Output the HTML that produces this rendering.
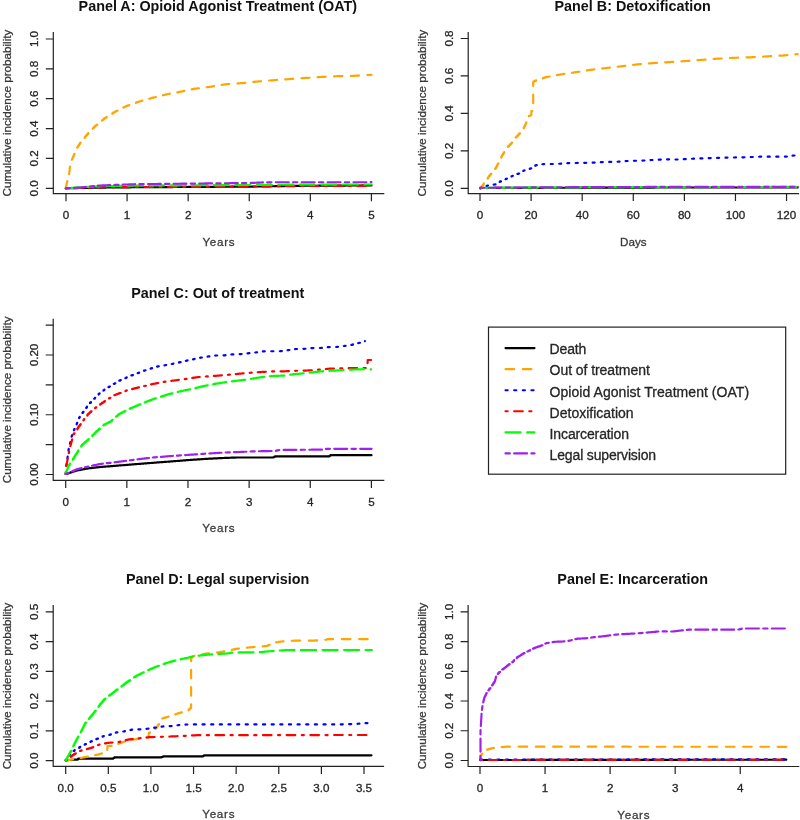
<!DOCTYPE html>
<html><head><meta charset="utf-8"><title>Cumulative incidence</title>
<style>
html,body{margin:0;padding:0;background:#fff;}
body{width:800px;height:820px;overflow:hidden;font-family:"Liberation Sans",sans-serif;}
svg{display:block;filter:blur(0.45px);}
</style></head><body>
<svg width="800" height="820" viewBox="0 0 800 820" font-family="Liberation Sans, sans-serif">
<rect width="800" height="820" fill="#fff"/>
<clipPath id="cA"><rect x="53.30" y="32.50" width="330.40" height="161.20"/></clipPath>
<path d="M53.30,32.50 L53.30,193.70 L383.70,193.70" fill="none" stroke="#222" stroke-width="1.20" stroke-linecap="square"/>
<path d="M66.00,193.70 L66.00,201.20 M127.08,193.70 L127.08,201.20 M188.16,193.70 L188.16,201.20 M249.24,193.70 L249.24,201.20 M310.32,193.70 L310.32,201.20 M371.40,193.70 L371.40,201.20 M53.30,188.30 L45.80,188.30 M53.30,158.44 L45.80,158.44 M53.30,128.58 L45.80,128.58 M53.30,98.72 L45.80,98.72 M53.30,68.86 L45.80,68.86 M53.30,39.00 L45.80,39.00 " fill="none" stroke="#222" stroke-width="1.20"/>
<text x="66.00" y="219.20" text-anchor="middle" font-size="11.64" font-weight="normal" fill="#262626" stroke="#262626" stroke-width="0.30">0</text>
<text x="127.08" y="219.20" text-anchor="middle" font-size="11.64" font-weight="normal" fill="#262626" stroke="#262626" stroke-width="0.30">1</text>
<text x="188.16" y="219.20" text-anchor="middle" font-size="11.64" font-weight="normal" fill="#262626" stroke="#262626" stroke-width="0.30">2</text>
<text x="249.24" y="219.20" text-anchor="middle" font-size="11.64" font-weight="normal" fill="#262626" stroke="#262626" stroke-width="0.30">3</text>
<text x="310.32" y="219.20" text-anchor="middle" font-size="11.64" font-weight="normal" fill="#262626" stroke="#262626" stroke-width="0.30">4</text>
<text x="371.40" y="219.20" text-anchor="middle" font-size="11.64" font-weight="normal" fill="#262626" stroke="#262626" stroke-width="0.30">5</text>
<text transform="translate(37.70,188.30) rotate(-90)" text-anchor="middle" font-size="11.64" font-weight="normal" fill="#262626" stroke="#262626" stroke-width="0.30">0.0</text>
<text transform="translate(37.70,158.44) rotate(-90)" text-anchor="middle" font-size="11.64" font-weight="normal" fill="#262626" stroke="#262626" stroke-width="0.30">0.2</text>
<text transform="translate(37.70,128.58) rotate(-90)" text-anchor="middle" font-size="11.64" font-weight="normal" fill="#262626" stroke="#262626" stroke-width="0.30">0.4</text>
<text transform="translate(37.70,98.72) rotate(-90)" text-anchor="middle" font-size="11.64" font-weight="normal" fill="#262626" stroke="#262626" stroke-width="0.30">0.6</text>
<text transform="translate(37.70,68.86) rotate(-90)" text-anchor="middle" font-size="11.64" font-weight="normal" fill="#262626" stroke="#262626" stroke-width="0.30">0.8</text>
<text transform="translate(37.70,39.00) rotate(-90)" text-anchor="middle" font-size="11.64" font-weight="normal" fill="#262626" stroke="#262626" stroke-width="0.30">1.0</text>
<text x="217.80" y="11.30" text-anchor="middle" font-size="14.35" font-weight="bold" fill="#111">Panel A: Opioid Agonist Treatment (OAT)</text>
<text x="218.50" y="245.70" text-anchor="middle" font-size="11.64" font-weight="normal" fill="#3a3a3a" textLength="32.2" stroke="#3a3a3a" stroke-width="0.30">Years</text>
<text transform="translate(10.80,113.10) rotate(-90)" text-anchor="middle" font-size="11.64" font-weight="normal" fill="#3a3a3a" stroke="#3a3a3a" stroke-width="0.30">Cumulative incidence probability</text>
<g clip-path="url(#cA)">
<path d="M65.80,188.30H66.75V188.28H67.69V188.26H68.64V188.24H69.59V188.22H70.53V188.20H71.48V188.18H72.43V188.16H73.37V188.14H74.32V188.12H75.27V188.10H76.21V188.08H77.16V188.06H78.11V188.04H79.05V188.02H80.00V188.00H81.00V187.98H82.00V187.96H83.00V187.94H84.00V187.92H85.00V187.90H86.00V187.88H87.00V187.86H88.00V187.84H89.00V187.82H90.00V187.80H91.00V187.78H92.00V187.76H93.00V187.74H94.00V187.72H95.00V187.70H96.00V187.68H97.00V187.66H98.00V187.64H99.00V187.62H100.00V187.60H101.00V187.59H102.00V187.58H103.00V187.57H104.00V187.56H105.00V187.55H106.00V187.54H107.00V187.53H108.00V187.52H109.00V187.51H110.00V187.50H111.00V187.49H112.00V187.48H113.00V187.47H114.00V187.46H115.00V187.45H116.00V187.44H117.00V187.43H118.00V187.42H119.00V187.41H120.00V187.40H121.00V187.39H122.00V187.38H123.00V187.37H124.00V187.36H125.00V187.35H126.00V187.34H127.00V187.33H128.00V187.32H129.00V187.31H130.00V187.30H131.00V187.29H132.00V187.29H133.00V187.28H134.00V187.28H135.00V187.27H136.00V187.26H137.00V187.26H138.00V187.25H139.00V187.25H140.00V187.24H141.00V187.23H142.00V187.23H143.00V187.22H144.00V187.22H145.00V187.21H146.00V187.20H147.00V187.20H148.00V187.19H149.00V187.19H150.00V187.18H151.00V187.17H152.00V187.17H153.00V187.16H154.00V187.16H155.00V187.15H156.00V187.14H157.00V187.14H158.00V187.13H159.00V187.13H160.00V187.12H161.00V187.11H162.00V187.11H163.00V187.10H164.00V187.10H165.00V187.09H166.00V187.08H167.00V187.08H168.00V187.07H169.00V187.07H170.00V187.06H171.00V187.05H172.00V187.05H173.00V187.04H174.00V187.04H175.00V187.03H176.00V187.02H177.00V187.02H178.00V187.01H179.00V187.01H180.00V187.00H181.00V186.99H182.00V186.99H183.00V186.98H184.00V186.98H185.00V186.97H186.00V186.97H187.00V186.96H188.00V186.95H189.00V186.95H190.00V186.94H191.00V186.94H192.00V186.93H193.00V186.93H194.00V186.92H195.00V186.91H196.00V186.91H197.00V186.90H198.00V186.90H199.00V186.89H200.00V186.89H201.00V186.88H202.00V186.87H203.00V186.87H204.00V186.86H205.00V186.86H206.00V186.85H207.00V186.85H208.00V186.84H209.00V186.83H210.00V186.83H211.00V186.82H212.00V186.82H213.00V186.81H214.00V186.81H215.00V186.80H216.00V186.79H217.00V186.79H218.00V186.78H219.00V186.78H220.00V186.77H221.00V186.77H222.00V186.76H223.00V186.75H224.00V186.75H225.00V186.74H226.00V186.74H227.00V186.73H228.00V186.73H229.00V186.72H230.00V186.71H231.00V186.71H232.00V186.70H233.00V186.70H234.00V186.69H235.00V186.69H236.00V186.68H237.00V186.67H238.00V186.67H239.00V186.66H240.00V186.66H241.00V186.65H242.00V186.65H243.00V186.64H244.00V186.63H245.00V186.63H246.00V186.62H247.00V186.62H248.00V186.61H249.00V186.61H250.00V186.60H251.00V186.58H252.00V186.57H253.00V186.55H254.00V186.54H255.00V186.52H256.00V186.50H257.00V186.49H258.00V186.47H259.00V186.46H260.00V186.44H261.00V186.42H262.00V186.41H263.00V186.39H264.00V186.38H265.00V186.36H266.00V186.34H267.00V186.33H268.00V186.31H269.00V186.30H270.00V186.28H271.00V186.26H272.00V186.25H273.00V186.23H274.00V186.22H275.00V186.20H276.00V186.18H277.00V186.17H278.00V186.15H279.00V186.14H280.00V186.12H281.00V186.10H282.00V186.09H283.00V186.07H284.00V186.06H285.00V186.04H286.00V186.02H287.00V186.01H288.00V185.99H289.00V185.98H290.00V185.96H291.00V185.94H292.00V185.93H293.00V185.91H294.00V185.90H295.00V185.88H296.00V185.86H297.00V185.85H298.00V185.83H299.00V185.82H300.00V185.80H300.99V185.79H301.99V185.79H302.98V185.78H303.97V185.78H304.97V185.77H305.96V185.77H306.95V185.76H307.94V185.76H308.94V185.75H309.93V185.74H310.92V185.74H311.92V185.73H312.91V185.73H313.90V185.72H314.90V185.72H315.89V185.71H316.88V185.71H317.88V185.70H318.87V185.69H319.86V185.69H320.85V185.68H321.85V185.68H322.84V185.67H323.83V185.67H324.83V185.66H325.82V185.66H326.81V185.65H327.81V185.64H328.80V185.64H329.79V185.63H330.78V185.63H331.78V185.62H332.77V185.62H333.76V185.61H334.76V185.61H335.75V185.60H336.74V185.59H337.74V185.59H338.73V185.58H339.72V185.58H340.72V185.57H341.71V185.57H342.70V185.56H343.69V185.56H344.69V185.55H345.68V185.54H346.67V185.54H347.67V185.53H348.66V185.53H349.65V185.52H350.65V185.52H351.64V185.51H352.63V185.51H353.62V185.50H354.62V185.49H355.61V185.49H356.60V185.48H357.60V185.48H358.59V185.47H359.58V185.47H360.58V185.46H361.57V185.46H362.56V185.45H363.56V185.44H364.55V185.44H365.54V185.43H366.53V185.43H367.53V185.42H368.52V185.42H369.51V185.41H370.51V185.41H371.50V185.40" fill="none" stroke="#000000" stroke-width="2.16" stroke-linecap="round" stroke-linejoin="round"/>
<path d="M65.80,188.30H65.94V187.44H66.08V186.58H66.22V185.72H66.36V184.86H66.50V184.00H66.75V183.00H67.00V182.00H67.25V181.00H67.50V180.00H67.76V179.14H68.02V178.28H68.28V177.42H68.54V176.56H68.80V175.70H68.93V174.73H69.06V173.76H69.19V172.79H69.32V171.82H69.45V170.85H69.58V169.88H69.71V168.91H69.84V167.94H69.97V166.97H70.10V166.00H70.33V165.07H70.57V164.13H70.80V163.20H71.03V162.27H71.27V161.33H71.50V160.40H71.90V159.46H72.30V158.51H72.70V157.57H73.10V156.63H73.50V155.69H73.90V154.74H74.30V153.80H74.67V152.88H75.03V151.97H75.40V151.05H75.77V150.13H76.13V149.22H76.50V148.30H77.13V147.36H77.76V146.41H78.39V145.47H79.01V144.53H79.64V143.59H80.27V142.64H80.90V141.70H81.67V140.76H82.44V139.81H83.21V138.87H83.99V137.93H84.76V136.99H85.53V136.04H86.30V135.10H87.22V134.12H88.14V133.14H89.07V132.17H89.99V131.19H90.91V130.21H91.83V129.23H92.76V128.26H93.68V127.28H94.60V126.30H95.52V125.54H96.44V124.78H97.36V124.02H98.28V123.26H99.20V122.50H100.12V121.74H101.04V120.98H101.96V120.22H102.88V119.46H103.80V118.70H104.75V118.09H105.69V117.48H106.64V116.87H107.58V116.26H108.53V115.65H109.47V115.05H110.42V114.44H111.36V113.83H112.31V113.22H113.25V112.61H114.20V112.00H115.20V111.50H116.20V111.00H117.20V110.50H118.20V110.00H119.20V109.50H120.20V109.00H121.20V108.50H122.20V108.00H123.20V107.50H124.20V107.00H125.20V106.50H126.20V106.00H127.18V105.65H128.17V105.31H129.15V104.96H130.14V104.62H131.12V104.27H132.11V103.92H133.09V103.58H134.08V103.23H135.06V102.88H136.05V102.54H137.03V102.19H138.02V101.85H139.00V101.50H139.96V101.23H140.93V100.96H141.89V100.69H142.86V100.41H143.82V100.14H144.79V99.87H145.75V99.60H146.71V99.33H147.68V99.06H148.64V98.79H149.61V98.51H150.57V98.24H151.54V97.97H152.50V97.70H153.46V97.46H154.43V97.23H155.39V96.99H156.36V96.76H157.32V96.52H158.29V96.29H159.25V96.05H160.21V95.81H161.18V95.58H162.14V95.34H163.11V95.11H164.07V94.87H165.04V94.64H166.00V94.40H166.95V94.22H167.89V94.04H168.84V93.86H169.79V93.68H170.73V93.50H171.68V93.32H172.63V93.14H173.57V92.96H174.52V92.78H175.47V92.60H176.41V92.42H177.36V92.24H178.31V92.06H179.25V91.88H180.20V91.70H181.15V91.50H182.11V91.30H183.06V91.10H184.01V90.90H184.97V90.70H185.92V90.50H186.87V90.30H187.83V90.10H188.78V89.90H189.73V89.70H190.69V89.50H191.64V89.30H192.59V89.10H193.55V88.90H194.50V88.70H195.48V88.58H196.46V88.46H197.44V88.34H198.42V88.22H199.40V88.10H200.38V87.98H201.36V87.86H202.34V87.74H203.32V87.62H204.30V87.50H205.28V87.38H206.26V87.26H207.24V87.14H208.22V87.02H209.20V86.90H210.17V86.74H211.15V86.58H212.12V86.41H213.10V86.25H214.07V86.09H215.05V85.92H216.03V85.76H217.00V85.60H217.97V85.44H218.95V85.28H219.93V85.11H220.90V84.95H221.88V84.79H222.85V84.62H223.83V84.46H224.80V84.30H225.78V84.23H226.76V84.16H227.74V84.09H228.73V84.03H229.71V83.96H230.69V83.89H231.67V83.82H232.65V83.75H233.63V83.68H234.61V83.61H235.59V83.54H236.57V83.47H237.56V83.41H238.54V83.34H239.52V83.27H240.50V83.20H241.49V83.10H242.47V83.00H243.46V82.90H244.45V82.80H245.44V82.70H246.43V82.60H247.41V82.50H248.40V82.40H249.39V82.30H250.38V82.20H251.36V82.10H252.35V82.00H253.34V81.90H254.33V81.80H255.31V81.70H256.30V81.60H257.28V81.52H258.26V81.44H259.24V81.36H260.23V81.27H261.21V81.19H262.19V81.11H263.17V81.03H264.15V80.95H265.13V80.87H266.11V80.79H267.09V80.71H268.07V80.62H269.06V80.54H270.04V80.46H271.02V80.38H272.00V80.30H272.99V80.23H273.99V80.16H274.98V80.09H275.98V80.02H276.97V79.95H277.96V79.88H278.96V79.81H279.95V79.74H280.95V79.66H281.94V79.59H282.94V79.52H283.93V79.45H284.92V79.38H285.92V79.31H286.91V79.24H287.91V79.17H288.90V79.10H289.88V79.03H290.86V78.96H291.84V78.89H292.82V78.82H293.81V78.76H294.79V78.69H295.77V78.62H296.75V78.55H297.73V78.48H298.71V78.41H299.69V78.34H300.68V78.28H301.66V78.21H302.64V78.14H303.62V78.07H304.60V78.00H305.59V77.94H306.59V77.87H307.58V77.81H308.58V77.74H309.57V77.68H310.56V77.61H311.56V77.55H312.55V77.48H313.55V77.42H314.54V77.35H315.54V77.29H316.53V77.22H317.52V77.16H318.52V77.09H319.51V77.03H320.51V76.96H321.50V76.90H322.49V76.86H323.48V76.81H324.46V76.77H325.45V76.73H326.44V76.68H327.43V76.64H328.41V76.59H329.40V76.55H330.39V76.51H331.38V76.46H332.36V76.42H333.35V76.38H334.34V76.33H335.32V76.29H336.31V76.24H337.30V76.20H338.29V76.18H339.28V76.15H340.26V76.13H341.25V76.11H342.24V76.08H343.23V76.06H344.22V76.04H345.21V76.01H346.19V75.99H347.18V75.96H348.17V75.94H349.16V75.92H350.15V75.89H351.14V75.87H352.12V75.85H353.11V75.82H354.10V75.80H355.07V75.74H356.03V75.69H357.00V75.63H357.97V75.58H358.93V75.52H359.90V75.47H360.87V75.41H361.83V75.36H362.80V75.30H363.77V75.24H364.73V75.19H365.70V75.13H366.67V75.08H367.63V75.02H368.60V74.97H369.57V74.91H370.53V74.86H371.50V74.80" fill="none" stroke="#FFA500" stroke-width="2.16" stroke-linecap="round" stroke-linejoin="round" stroke-dasharray="8.64 8.64"/>
<path d="M65.80,188.30H66.78V188.27H67.75V188.24H68.73V188.21H69.71V188.19H70.69V188.16H71.66V188.13H72.64V188.10H73.62V188.07H74.59V188.04H75.57V188.01H76.55V187.99H77.53V187.96H78.50V187.93H79.48V187.90H80.46V187.87H81.43V187.84H82.41V187.81H83.39V187.79H84.37V187.76H85.34V187.73H86.32V187.70H87.30V187.67H88.27V187.64H89.25V187.61H90.23V187.59H91.21V187.56H92.18V187.53H93.16V187.50H94.14V187.47H95.11V187.44H96.09V187.41H97.07V187.39H98.05V187.36H99.02V187.33H100.00V187.30H101.00V187.29H102.00V187.28H103.00V187.27H104.00V187.27H105.00V187.26H106.00V187.25H107.00V187.24H108.00V187.23H109.00V187.22H110.00V187.21H111.00V187.21H112.00V187.20H113.00V187.19H114.00V187.18H115.00V187.17H116.00V187.16H117.00V187.15H118.00V187.15H119.00V187.14H120.00V187.13H121.00V187.12H122.00V187.11H123.00V187.10H124.00V187.09H125.00V187.09H126.00V187.08H127.00V187.07H128.00V187.06H129.00V187.05H130.00V187.04H131.00V187.03H132.00V187.03H133.00V187.02H134.00V187.01H135.00V187.00H136.00V187.00H137.00V186.99H138.00V186.99H139.00V186.99H140.00V186.98H141.00V186.98H142.00V186.98H143.00V186.98H144.00V186.97H145.00V186.97H146.00V186.97H147.00V186.96H148.00V186.96H149.00V186.96H150.00V186.95H151.00V186.95H152.00V186.95H153.00V186.94H154.00V186.94H155.00V186.94H156.00V186.94H157.00V186.93H158.00V186.93H159.00V186.93H160.00V186.92H161.00V186.92H162.00V186.92H163.00V186.91H164.00V186.91H165.00V186.91H166.00V186.90H167.00V186.90H168.00V186.90H169.00V186.90H170.00V186.89H171.00V186.89H172.00V186.89H173.00V186.88H174.00V186.88H175.00V186.88H176.00V186.87H177.00V186.87H178.00V186.87H179.00V186.86H180.00V186.86H181.00V186.86H182.00V186.86H183.00V186.85H184.00V186.85H185.00V186.85H186.00V186.84H187.00V186.84H188.00V186.84H189.00V186.83H190.00V186.83H191.00V186.83H192.00V186.82H193.00V186.82H194.00V186.82H195.00V186.82H196.00V186.81H197.00V186.81H198.00V186.81H199.00V186.80H200.00V186.80H201.00V186.80H202.00V186.79H203.00V186.79H204.00V186.78H205.00V186.78H206.00V186.78H207.00V186.77H208.00V186.77H209.00V186.76H210.00V186.76H211.00V186.76H212.00V186.75H213.00V186.75H214.00V186.74H215.00V186.74H216.00V186.74H217.00V186.73H218.00V186.73H219.00V186.72H220.00V186.72H221.00V186.72H222.00V186.71H223.00V186.71H224.00V186.70H225.00V186.70H226.00V186.70H227.00V186.69H228.00V186.69H229.00V186.68H230.00V186.68H231.00V186.68H232.00V186.67H233.00V186.67H234.00V186.66H235.00V186.66H236.00V186.66H237.00V186.65H238.00V186.65H239.00V186.64H240.00V186.64H241.00V186.64H242.00V186.63H243.00V186.63H244.00V186.62H245.00V186.62H246.00V186.62H247.00V186.61H248.00V186.61H249.00V186.60H250.00V186.60H251.00V186.59H252.00V186.58H253.00V186.56H254.00V186.55H255.00V186.54H256.00V186.53H257.00V186.52H258.00V186.50H259.00V186.49H260.00V186.48H261.00V186.47H262.00V186.46H263.00V186.44H264.00V186.43H265.00V186.42H266.00V186.41H267.00V186.40H268.00V186.38H269.00V186.37H270.00V186.36H271.00V186.35H272.00V186.34H273.00V186.32H274.00V186.31H275.00V186.30H276.00V186.29H277.00V186.28H278.00V186.26H279.00V186.25H280.00V186.24H281.00V186.23H282.00V186.22H283.00V186.20H284.00V186.19H285.00V186.18H286.00V186.17H287.00V186.16H288.00V186.14H289.00V186.13H290.00V186.12H291.00V186.11H292.00V186.10H293.00V186.08H294.00V186.07H295.00V186.06H296.00V186.05H297.00V186.04H298.00V186.02H299.00V186.01H300.00V186.00H300.99V186.00H301.99V186.00H302.98V186.00H303.97V185.99H304.97V185.99H305.96V185.99H306.95V185.99H307.94V185.99H308.94V185.99H309.93V185.99H310.92V185.98H311.92V185.98H312.91V185.98H313.90V185.98H314.90V185.98H315.89V185.98H316.88V185.98H317.88V185.97H318.87V185.97H319.86V185.97H320.85V185.97H321.85V185.97H322.84V185.97H323.83V185.97H324.83V185.97H325.82V185.96H326.81V185.96H327.81V185.96H328.80V185.96H329.79V185.96H330.78V185.96H331.78V185.96H332.77V185.95H333.76V185.95H334.76V185.95H335.75V185.95H336.74V185.95H337.74V185.95H338.73V185.95H339.72V185.94H340.72V185.94H341.71V185.94H342.70V185.94H343.69V185.94H344.69V185.94H345.68V185.94H346.67V185.93H347.67V185.93H348.66V185.93H349.65V185.93H350.65V185.93H351.64V185.93H352.63V185.93H353.62V185.93H354.62V185.92H355.61V185.92H356.60V185.92H357.60V185.92H358.59V185.92H359.58V185.92H360.58V185.92H361.57V185.91H362.56V185.91H363.56V185.91H364.55V185.91H365.54V185.91H366.53V185.91H367.53V185.91H368.52V185.90H369.51V185.90H370.51V185.90H371.50V185.90" fill="none" stroke="#FF0000" stroke-width="2.16" stroke-linecap="round" stroke-linejoin="round" stroke-dasharray="2.16 6.48 8.64 6.48"/>
<path d="M65.80,188.30H66.75V188.23H67.69V188.17H68.64V188.10H69.59V188.03H70.53V187.97H71.48V187.90H72.43V187.83H73.37V187.77H74.32V187.70H75.27V187.63H76.21V187.57H77.16V187.50H78.11V187.43H79.05V187.37H80.00V187.30H81.00V187.25H82.00V187.19H83.00V187.14H84.00V187.08H85.00V187.03H86.00V186.97H87.00V186.91H88.00V186.86H89.00V186.81H90.00V186.75H91.00V186.69H92.00V186.64H93.00V186.59H94.00V186.53H95.00V186.47H96.00V186.42H97.00V186.36H98.00V186.31H99.00V186.25H100.00V186.20H101.00V186.18H102.00V186.16H103.00V186.14H104.00V186.12H105.00V186.10H106.00V186.08H107.00V186.06H108.00V186.04H109.00V186.02H110.00V186.00H111.00V185.98H112.00V185.96H113.00V185.94H114.00V185.92H115.00V185.90H116.00V185.88H117.00V185.86H118.00V185.84H119.00V185.82H120.00V185.80H121.00V185.78H122.00V185.76H123.00V185.74H124.00V185.72H125.00V185.70H126.00V185.68H127.00V185.66H128.00V185.64H129.00V185.62H130.00V185.60H131.00V185.58H132.00V185.56H133.00V185.54H134.00V185.52H135.00V185.50H136.00V185.50H137.00V185.49H138.00V185.49H139.00V185.48H140.00V185.48H141.00V185.47H142.00V185.47H143.00V185.46H144.00V185.46H145.00V185.45H146.00V185.45H147.00V185.44H148.00V185.44H149.00V185.44H150.00V185.43H151.00V185.43H152.00V185.42H153.00V185.42H154.00V185.41H155.00V185.41H156.00V185.40H157.00V185.40H158.00V185.39H159.00V185.39H160.00V185.38H161.00V185.38H162.00V185.38H163.00V185.37H164.00V185.37H165.00V185.36H166.00V185.36H167.00V185.35H168.00V185.35H169.00V185.34H170.00V185.34H171.00V185.33H172.00V185.33H173.00V185.32H174.00V185.32H175.00V185.32H176.00V185.31H177.00V185.31H178.00V185.30H179.00V185.30H180.00V185.29H181.00V185.29H182.00V185.28H183.00V185.28H184.00V185.27H185.00V185.27H186.00V185.26H187.00V185.26H188.00V185.26H189.00V185.25H190.00V185.25H191.00V185.24H192.00V185.24H193.00V185.23H194.00V185.23H195.00V185.22H196.00V185.22H197.00V185.21H198.00V185.21H199.00V185.20H200.00V185.20H201.00V185.20H202.00V185.19H203.00V185.19H204.00V185.18H205.00V185.18H206.00V185.18H207.00V185.17H208.00V185.17H209.00V185.16H210.00V185.16H211.00V185.16H212.00V185.15H213.00V185.15H214.00V185.14H215.00V185.14H216.00V185.14H217.00V185.13H218.00V185.13H219.00V185.12H220.00V185.12H221.00V185.12H222.00V185.11H223.00V185.11H224.00V185.10H225.00V185.10H226.00V185.10H227.00V185.09H228.00V185.09H229.00V185.08H230.00V185.08H231.00V185.08H232.00V185.07H233.00V185.07H234.00V185.06H235.00V185.06H236.00V185.06H237.00V185.05H238.00V185.05H239.00V185.04H240.00V185.04H241.00V185.04H242.00V185.03H243.00V185.03H244.00V185.02H245.00V185.02H246.00V185.02H247.00V185.01H248.00V185.01H249.00V185.00H250.00V185.00H251.00V184.99H252.00V184.98H253.00V184.98H254.00V184.97H255.00V184.96H256.00V184.95H257.00V184.94H258.00V184.94H259.00V184.93H260.00V184.92H261.00V184.91H262.00V184.90H263.00V184.90H264.00V184.89H265.00V184.88H266.00V184.87H267.00V184.86H268.00V184.86H269.00V184.85H270.00V184.84H271.00V184.83H272.00V184.82H273.00V184.82H274.00V184.81H275.00V184.80H276.00V184.79H277.00V184.78H278.00V184.78H279.00V184.77H280.00V184.76H281.00V184.75H282.00V184.74H283.00V184.74H284.00V184.73H285.00V184.72H286.00V184.71H287.00V184.70H288.00V184.70H289.00V184.69H290.00V184.68H291.00V184.67H292.00V184.66H293.00V184.66H294.00V184.65H295.00V184.64H296.00V184.63H297.00V184.62H298.00V184.62H299.00V184.61H300.00V184.60H300.99V184.60H301.99V184.60H302.98V184.60H303.97V184.59H304.97V184.59H305.96V184.59H306.95V184.59H307.94V184.59H308.94V184.59H309.93V184.59H310.92V184.58H311.92V184.58H312.91V184.58H313.90V184.58H314.90V184.58H315.89V184.58H316.88V184.58H317.88V184.57H318.87V184.57H319.86V184.57H320.85V184.57H321.85V184.57H322.84V184.57H323.83V184.57H324.83V184.57H325.82V184.56H326.81V184.56H327.81V184.56H328.80V184.56H329.79V184.56H330.78V184.56H331.78V184.56H332.77V184.55H333.76V184.55H334.76V184.55H335.75V184.55H336.74V184.55H337.74V184.55H338.73V184.55H339.72V184.54H340.72V184.54H341.71V184.54H342.70V184.54H343.69V184.54H344.69V184.54H345.68V184.54H346.67V184.53H347.67V184.53H348.66V184.53H349.65V184.53H350.65V184.53H351.64V184.53H352.63V184.53H353.62V184.53H354.62V184.52H355.61V184.52H356.60V184.52H357.60V184.52H358.59V184.52H359.58V184.52H360.58V184.52H361.57V184.51H362.56V184.51H363.56V184.51H364.55V184.51H365.54V184.51H366.53V184.51H367.53V184.51H368.52V184.50H369.51V184.50H370.51V184.50H371.50V184.50" fill="none" stroke="#00FF00" stroke-width="2.16" stroke-linecap="round" stroke-linejoin="round" stroke-dasharray="15.12 6.48"/>
<path d="M65.80,188.30H66.75V188.25H67.69V188.19H68.64V188.14H69.59V188.09H70.53V188.03H71.48V187.98H72.43V187.93H73.37V187.87H74.32V187.82H75.27V187.77H76.21V187.71H77.16V187.66H78.11V187.61H79.05V187.55H80.00V187.50H81.00V187.40H82.00V187.30H83.00V187.20H84.00V187.10H85.00V187.00H86.00V186.90H87.00V186.80H88.00V186.70H89.00V186.60H90.00V186.50H91.00V186.40H92.00V186.30H93.00V186.20H94.00V186.10H95.00V186.00H96.00V185.90H97.00V185.80H98.00V185.70H99.00V185.60H100.00V185.50H101.00V185.46H102.00V185.43H103.00V185.39H104.00V185.35H105.00V185.31H106.00V185.28H107.00V185.24H108.00V185.20H109.00V185.17H110.00V185.13H111.00V185.09H112.00V185.05H113.00V185.02H114.00V184.98H115.00V184.94H116.00V184.91H117.00V184.87H118.00V184.83H119.00V184.79H120.00V184.76H121.00V184.72H122.00V184.68H123.00V184.65H124.00V184.61H125.00V184.57H126.00V184.53H127.00V184.50H128.00V184.46H129.00V184.42H130.00V184.39H131.00V184.35H132.00V184.31H133.00V184.27H134.00V184.24H135.00V184.20H136.00V184.19H137.00V184.18H138.00V184.17H139.00V184.16H140.00V184.15H141.00V184.14H142.00V184.12H143.00V184.11H144.00V184.10H145.00V184.09H146.00V184.08H147.00V184.07H148.00V184.06H149.00V184.05H150.00V184.04H151.00V184.03H152.00V184.02H153.00V184.01H154.00V184.00H155.00V183.98H156.00V183.97H157.00V183.96H158.00V183.95H159.00V183.94H160.00V183.93H161.00V183.92H162.00V183.91H163.00V183.90H164.00V183.89H165.00V183.88H166.00V183.87H167.00V183.86H168.00V183.84H169.00V183.83H170.00V183.82H171.00V183.81H172.00V183.80H173.00V183.79H174.00V183.78H175.00V183.77H176.00V183.76H177.00V183.75H178.00V183.74H179.00V183.73H180.00V183.72H181.00V183.70H182.00V183.69H183.00V183.68H184.00V183.67H185.00V183.66H186.00V183.65H187.00V183.64H188.00V183.63H189.00V183.62H190.00V183.61H191.00V183.60H192.00V183.59H193.00V183.58H194.00V183.56H195.00V183.55H196.00V183.54H197.00V183.53H198.00V183.52H199.00V183.51H200.00V183.50H201.00V183.49H202.00V183.48H203.00V183.47H204.00V183.46H205.00V183.45H206.00V183.44H207.00V183.43H208.00V183.42H209.00V183.41H210.00V183.40H211.00V183.39H212.00V183.38H213.00V183.37H214.00V183.36H215.00V183.35H216.00V183.34H217.00V183.33H218.00V183.32H219.00V183.31H220.00V183.30H221.00V183.29H222.00V183.28H223.00V183.27H224.00V183.26H225.00V183.25H226.00V183.24H227.00V183.23H228.00V183.22H229.00V183.21H230.00V183.20H231.00V183.19H232.00V183.18H233.00V183.17H234.00V183.16H235.00V183.15H236.00V183.14H237.00V183.13H238.00V183.12H239.00V183.11H240.00V183.10H241.00V183.09H242.00V183.08H243.00V183.07H244.00V183.06H245.00V183.05H246.00V183.04H247.00V183.03H248.00V183.02H249.00V183.01H250.00V183.00H251.00V182.95H252.00V182.91H253.00V182.86H254.00V182.81H255.00V182.77H256.00V182.72H257.00V182.67H258.00V182.63H259.00V182.58H260.00V182.53H261.00V182.49H262.00V182.44H263.00V182.39H264.00V182.35H265.00V182.30H266.00V182.30H266.99V182.30H267.99V182.30H268.98V182.30H269.98V182.30H270.97V182.29H271.97V182.29H272.96V182.29H273.96V182.29H274.95V182.29H275.95V182.29H276.94V182.29H277.94V182.29H278.93V182.29H279.93V182.29H280.93V182.29H281.92V182.28H282.92V182.28H283.91V182.28H284.91V182.28H285.90V182.28H286.90V182.28H287.89V182.28H288.89V182.28H289.88V182.28H290.88V182.28H291.87V182.27H292.87V182.27H293.86V182.27H294.86V182.27H295.86V182.27H296.85V182.27H297.85V182.27H298.84V182.27H299.84V182.27H300.83V182.27H301.83V182.27H302.82V182.26H303.82V182.26H304.81V182.26H305.81V182.26H306.80V182.26H307.80V182.26H308.79V182.26H309.79V182.26H310.79V182.26H311.78V182.26H312.78V182.26H313.77V182.25H314.77V182.25H315.76V182.25H316.76V182.25H317.75V182.25H318.75V182.25H319.74V182.25H320.74V182.25H321.73V182.25H322.73V182.25H323.72V182.24H324.72V182.24H325.71V182.24H326.71V182.24H327.71V182.24H328.70V182.24H329.70V182.24H330.69V182.24H331.69V182.24H332.68V182.24H333.68V182.24H334.67V182.23H335.67V182.23H336.66V182.23H337.66V182.23H338.65V182.23H339.65V182.23H340.64V182.23H341.64V182.23H342.64V182.23H343.63V182.23H344.63V182.23H345.62V182.22H346.62V182.22H347.61V182.22H348.61V182.22H349.60V182.22H350.60V182.22H351.59V182.22H352.59V182.22H353.58V182.22H354.58V182.22H355.57V182.21H356.57V182.21H357.57V182.21H358.56V182.21H359.56V182.21H360.55V182.21H361.55V182.21H362.54V182.21H363.54V182.21H364.53V182.21H365.53V182.21H366.52V182.20H367.52V182.20H368.51V182.20H369.51V182.20H370.50V182.20H371.50V182.20" fill="none" stroke="#A020F0" stroke-width="2.16" stroke-linecap="round" stroke-linejoin="round" stroke-dasharray="4.32 4.32 12.96 4.32"/>
</g>
<clipPath id="cB"><rect x="468.20" y="32.50" width="330.30" height="161.10"/></clipPath>
<path d="M468.20,32.50 L468.20,193.60 L798.50,193.60" fill="none" stroke="#222" stroke-width="1.20" stroke-linecap="square"/>
<path d="M480.00,193.60 L480.00,201.10 M531.09,193.60 L531.09,201.10 M582.18,193.60 L582.18,201.10 M633.28,193.60 L633.28,201.10 M684.37,193.60 L684.37,201.10 M735.46,193.60 L735.46,201.10 M786.55,193.60 L786.55,201.10 M468.20,188.30 L460.70,188.30 M468.20,150.85 L460.70,150.85 M468.20,113.40 L460.70,113.40 M468.20,75.95 L460.70,75.95 M468.20,38.50 L460.70,38.50 " fill="none" stroke="#222" stroke-width="1.20"/>
<text x="480.00" y="219.10" text-anchor="middle" font-size="11.64" font-weight="normal" fill="#262626" stroke="#262626" stroke-width="0.30">0</text>
<text x="531.09" y="219.10" text-anchor="middle" font-size="11.64" font-weight="normal" fill="#262626" stroke="#262626" stroke-width="0.30">20</text>
<text x="582.18" y="219.10" text-anchor="middle" font-size="11.64" font-weight="normal" fill="#262626" stroke="#262626" stroke-width="0.30">40</text>
<text x="633.28" y="219.10" text-anchor="middle" font-size="11.64" font-weight="normal" fill="#262626" stroke="#262626" stroke-width="0.30">60</text>
<text x="684.37" y="219.10" text-anchor="middle" font-size="11.64" font-weight="normal" fill="#262626" stroke="#262626" stroke-width="0.30">80</text>
<text x="735.46" y="219.10" text-anchor="middle" font-size="11.64" font-weight="normal" fill="#262626" stroke="#262626" stroke-width="0.30">100</text>
<text x="786.55" y="219.10" text-anchor="middle" font-size="11.64" font-weight="normal" fill="#262626" stroke="#262626" stroke-width="0.30">120</text>
<text transform="translate(452.60,188.30) rotate(-90)" text-anchor="middle" font-size="11.64" font-weight="normal" fill="#262626" stroke="#262626" stroke-width="0.30">0.0</text>
<text transform="translate(452.60,150.85) rotate(-90)" text-anchor="middle" font-size="11.64" font-weight="normal" fill="#262626" stroke="#262626" stroke-width="0.30">0.2</text>
<text transform="translate(452.60,113.40) rotate(-90)" text-anchor="middle" font-size="11.64" font-weight="normal" fill="#262626" stroke="#262626" stroke-width="0.30">0.4</text>
<text transform="translate(452.60,75.95) rotate(-90)" text-anchor="middle" font-size="11.64" font-weight="normal" fill="#262626" stroke="#262626" stroke-width="0.30">0.6</text>
<text transform="translate(452.60,38.50) rotate(-90)" text-anchor="middle" font-size="11.64" font-weight="normal" fill="#262626" stroke="#262626" stroke-width="0.30">0.8</text>
<text x="632.65" y="11.30" text-anchor="middle" font-size="14.35" font-weight="bold" fill="#111">Panel B: Detoxification</text>
<text x="633.35" y="245.60" text-anchor="middle" font-size="11.64" font-weight="normal" fill="#3a3a3a" stroke="#3a3a3a" stroke-width="0.30">Days</text>
<text transform="translate(425.70,113.05) rotate(-90)" text-anchor="middle" font-size="11.64" font-weight="normal" fill="#3a3a3a" stroke="#3a3a3a" stroke-width="0.30">Cumulative incidence probability</text>
<g clip-path="url(#cB)">
<path d="M480.00,188.00H481.00V188.00H482.00V187.99H483.00V187.99H484.00V187.99H485.00V187.98H486.00V187.98H487.00V187.98H488.00V187.97H489.00V187.97H490.00V187.97H491.00V187.96H492.00V187.96H493.00V187.96H494.00V187.95H495.00V187.95H496.00V187.95H497.00V187.94H498.00V187.94H499.00V187.94H500.00V187.93H501.00V187.93H502.00V187.93H503.00V187.92H504.00V187.92H505.00V187.92H506.00V187.91H507.00V187.91H508.00V187.91H509.00V187.90H510.00V187.90H511.00V187.90H512.00V187.89H513.00V187.89H514.00V187.89H515.00V187.88H516.00V187.88H517.00V187.88H518.00V187.87H519.00V187.87H520.00V187.87H521.00V187.86H522.00V187.86H523.00V187.86H524.00V187.85H525.00V187.85H526.00V187.85H527.00V187.84H528.00V187.84H529.00V187.84H530.00V187.83H531.00V187.83H532.00V187.83H533.00V187.82H534.00V187.82H535.00V187.82H536.00V187.81H537.00V187.81H538.00V187.81H539.00V187.80H540.00V187.80H541.00V187.80H542.00V187.79H543.00V187.79H544.00V187.79H545.00V187.78H546.00V187.78H547.00V187.78H548.00V187.77H549.00V187.77H550.00V187.77H551.00V187.76H552.00V187.76H553.00V187.76H554.00V187.75H555.00V187.75H556.00V187.75H557.00V187.74H558.00V187.74H559.00V187.74H560.00V187.73H561.00V187.73H562.00V187.73H563.00V187.72H564.00V187.72H565.00V187.72H566.00V187.71H567.00V187.71H568.00V187.71H569.00V187.70H570.00V187.70H571.00V187.70H572.00V187.69H573.00V187.69H574.00V187.69H575.00V187.68H576.00V187.68H577.00V187.68H578.00V187.67H579.00V187.67H580.00V187.67H581.00V187.66H582.00V187.66H583.00V187.66H584.00V187.65H585.00V187.65H586.00V187.65H587.00V187.64H588.00V187.64H589.00V187.64H590.00V187.63H591.00V187.63H592.00V187.63H593.00V187.62H594.00V187.62H595.00V187.62H596.00V187.61H597.00V187.61H598.00V187.61H599.00V187.60H600.00V187.60H601.00V187.60H602.00V187.60H603.00V187.60H604.00V187.60H605.00V187.59H606.00V187.59H607.00V187.59H608.00V187.59H609.00V187.59H610.00V187.59H611.00V187.59H612.00V187.59H613.00V187.59H614.00V187.59H615.00V187.59H616.00V187.58H617.00V187.58H618.00V187.58H619.00V187.58H620.00V187.58H621.00V187.58H622.00V187.58H623.00V187.58H624.00V187.58H625.00V187.57H626.00V187.57H627.00V187.57H628.00V187.57H629.00V187.57H630.00V187.57H631.00V187.57H632.00V187.57H633.00V187.57H634.00V187.57H635.00V187.56H636.00V187.56H637.00V187.56H638.00V187.56H639.00V187.56H640.00V187.56H641.00V187.56H642.00V187.56H643.00V187.56H644.00V187.56H645.00V187.56H646.00V187.55H647.00V187.55H648.00V187.55H649.00V187.55H650.00V187.55H651.00V187.55H652.00V187.55H653.00V187.55H654.00V187.55H655.00V187.54H656.00V187.54H657.00V187.54H658.00V187.54H659.00V187.54H660.00V187.54H661.00V187.54H662.00V187.54H663.00V187.54H664.00V187.54H665.00V187.53H666.00V187.53H667.00V187.53H668.00V187.53H669.00V187.53H670.00V187.53H671.00V187.53H672.00V187.53H673.00V187.53H674.00V187.53H675.00V187.53H676.00V187.52H677.00V187.52H678.00V187.52H679.00V187.52H680.00V187.52H681.00V187.52H682.00V187.52H683.00V187.52H684.00V187.52H685.00V187.51H686.00V187.51H687.00V187.51H688.00V187.51H689.00V187.51H690.00V187.51H691.00V187.51H692.00V187.51H693.00V187.51H694.00V187.51H695.00V187.50H696.00V187.50H697.00V187.50H698.00V187.50H699.00V187.50H700.00V187.50H701.00V187.50H702.00V187.50H703.00V187.50H704.00V187.50H705.00V187.50H706.00V187.49H707.00V187.49H708.00V187.49H709.00V187.49H710.00V187.49H711.00V187.49H712.00V187.49H713.00V187.49H714.00V187.49H715.00V187.49H716.00V187.48H717.00V187.48H718.00V187.48H719.00V187.48H720.00V187.48H721.00V187.48H722.00V187.48H723.00V187.48H724.00V187.48H725.00V187.47H726.00V187.47H727.00V187.47H728.00V187.47H729.00V187.47H730.00V187.47H731.00V187.47H732.00V187.47H733.00V187.47H734.00V187.47H735.00V187.47H736.00V187.46H737.00V187.46H738.00V187.46H739.00V187.46H740.00V187.46H741.00V187.46H742.00V187.46H743.00V187.46H744.00V187.46H745.00V187.46H746.00V187.45H747.00V187.45H748.00V187.45H749.00V187.45H750.00V187.45H751.00V187.45H752.00V187.45H753.00V187.45H754.00V187.45H755.00V187.44H756.00V187.44H757.00V187.44H758.00V187.44H759.00V187.44H760.00V187.44H761.00V187.44H762.00V187.44H763.00V187.44H764.00V187.44H765.00V187.44H766.00V187.43H767.00V187.43H768.00V187.43H769.00V187.43H770.00V187.43H771.00V187.43H772.00V187.43H773.00V187.43H774.00V187.43H775.00V187.43H776.00V187.42H777.00V187.42H778.00V187.42H779.00V187.42H780.00V187.42H781.00V187.42H782.00V187.42H783.00V187.42H784.00V187.42H785.00V187.41H786.00V187.41H787.00V187.41H788.00V187.41H789.00V187.41H790.00V187.41H791.00V187.41H792.00V187.41H793.00V187.41H794.00V187.41H795.00V187.41H796.00V187.40H797.00V187.40H798.00V187.40H799.00V187.40H800.00V187.40" fill="none" stroke="#000000" stroke-width="2.16" stroke-linecap="round" stroke-linejoin="round"/>
<path d="M480.00,188.30H480.77V187.33H481.55V186.35H482.33V185.38H483.10V184.40H483.77V183.44H484.43V182.49H485.10V181.53H485.77V180.58H486.43V179.62H487.10V178.67H487.77V177.71H488.43V176.76H489.10V175.80H489.90V174.80H490.70V173.80H491.50V172.80H492.30V171.80H493.10V170.80H493.90V169.80H494.70V168.80H495.50V167.80H496.30V166.80H496.80V165.80H497.30V164.80H497.80V163.80H498.30V162.80H498.80V161.80H499.30V160.80H499.80V159.80H500.30V158.80H500.80V157.80H501.30V156.80H501.80V155.80H502.30V154.80H502.93V153.83H503.55V152.85H504.18V151.88H504.80V150.90H505.43V149.93H506.05V148.95H506.68V147.97H507.30V147.00H508.18V146.14H509.06V145.28H509.94V144.42H510.82V143.56H511.70V142.70H512.35V141.80H513.00V140.90H513.65V140.00H514.30V139.10H514.95V138.20H515.60V137.30H516.57V136.33H517.53V135.37H518.50V134.40H519.32V133.42H520.13V132.43H520.95V131.45H521.77V130.47H522.58V129.48H523.40V128.50H523.82V127.62H524.23V126.73H524.65V125.85H525.07V124.97H525.48V124.08H525.90V123.20H526.26V122.29H526.62V121.38H526.99V120.46H527.35V119.55H527.71V118.64H528.07V117.73H528.44V116.81H528.80V115.90H529.60V115.57H530.40V115.23H531.20V114.90H531.25V113.93H531.30V112.95H531.35V111.97H531.40V111.00H532.30V110.75H533.20V110.50H533.20V81.70H534.15V81.20H535.10V80.70H536.07V80.37H537.05V80.05H538.02V79.72H538.99V79.39H539.96V79.06H540.94V78.74H541.91V78.41H542.88V78.08H543.85V77.75H544.83V77.43H545.80V77.10H546.80V76.91H547.80V76.73H548.80V76.54H549.80V76.36H550.80V76.17H551.80V75.99H552.80V75.80H553.80V75.61H554.80V75.43H555.80V75.24H556.80V75.06H557.80V74.87H558.80V74.69H559.80V74.50H560.78V74.36H561.76V74.21H562.74V74.07H563.72V73.92H564.71V73.78H565.69V73.64H566.67V73.49H567.65V73.35H568.63V73.21H569.61V73.06H570.59V72.92H571.58V72.78H572.56V72.63H573.54V72.49H574.52V72.34H575.50V72.20H576.49V72.04H577.49V71.88H578.48V71.72H579.47V71.56H580.47V71.40H581.46V71.24H582.45V71.08H583.45V70.92H584.44V70.76H585.43V70.60H586.43V70.44H587.42V70.28H588.41V70.12H589.41V69.96H590.40V69.80H591.39V69.69H592.38V69.58H593.36V69.46H594.35V69.35H595.34V69.24H596.33V69.12H597.31V69.01H598.30V68.90H599.29V68.79H600.27V68.67H601.26V68.56H602.25V68.45H603.24V68.34H604.23V68.22H605.21V68.11H606.20V68.00H607.19V67.89H608.19V67.77H609.18V67.66H610.17V67.55H611.17V67.43H612.16V67.32H613.15V67.21H614.15V67.09H615.14V66.98H616.13V66.87H617.13V66.75H618.12V66.64H619.11V66.53H620.11V66.41H621.10V66.30H622.09V66.18H623.09V66.06H624.08V65.94H625.07V65.82H626.07V65.70H627.06V65.58H628.05V65.46H629.05V65.34H630.04V65.22H631.03V65.10H632.03V64.98H633.02V64.86H634.01V64.74H635.01V64.62H636.00V64.50H636.98V64.42H637.95V64.34H638.93V64.25H639.91V64.17H640.88V64.09H641.86V64.01H642.84V63.92H643.81V63.84H644.79V63.76H645.76V63.68H646.74V63.59H647.72V63.51H648.69V63.43H649.67V63.35H650.65V63.26H651.62V63.18H652.60V63.10H653.56V63.04H654.51V62.99H655.47V62.93H656.42V62.88H657.38V62.82H658.34V62.76H659.29V62.71H660.25V62.65H661.21V62.59H662.16V62.54H663.12V62.48H664.08V62.43H665.03V62.37H665.99V62.31H666.94V62.26H667.90V62.20H668.88V62.14H669.85V62.07H670.83V62.01H671.81V61.94H672.78V61.88H673.76V61.81H674.74V61.75H675.71V61.68H676.69V61.62H677.66V61.55H678.64V61.49H679.62V61.42H680.59V61.36H681.57V61.29H682.55V61.23H683.52V61.16H684.50V61.10H685.48V61.03H686.46V60.96H687.45V60.89H688.43V60.82H689.41V60.75H690.39V60.68H691.38V60.61H692.36V60.54H693.34V60.46H694.32V60.39H695.31V60.32H696.29V60.25H697.27V60.18H698.25V60.11H699.24V60.04H700.22V59.97H701.20V59.90H702.18V59.82H703.16V59.75H704.14V59.67H705.12V59.60H706.11V59.52H707.09V59.45H708.07V59.38H709.05V59.30H710.03V59.23H711.01V59.15H711.99V59.08H712.98V59.00H713.96V58.93H714.94V58.85H715.92V58.78H716.90V58.70H717.88V58.65H718.86V58.59H719.85V58.54H720.83V58.49H721.81V58.44H722.79V58.38H723.78V58.33H724.76V58.28H725.74V58.22H726.72V58.17H727.71V58.12H728.69V58.06H729.67V58.01H730.65V57.96H731.64V57.91H732.62V57.85H733.60V57.80H734.58V57.77H735.55V57.74H736.53V57.71H737.51V57.68H738.48V57.65H739.46V57.62H740.44V57.59H741.41V57.56H742.39V57.54H743.36V57.51H744.34V57.48H745.32V57.45H746.29V57.42H747.27V57.39H748.25V57.36H749.22V57.33H750.20V57.30H751.19V57.24H752.18V57.19H753.16V57.13H754.15V57.07H755.14V57.02H756.12V56.96H757.11V56.91H758.10V56.85H759.09V56.79H760.08V56.74H761.06V56.68H762.05V56.62H763.04V56.57H764.02V56.51H765.01V56.46H766.00V56.40H766.98V56.35H767.95V56.29H768.93V56.24H769.91V56.19H770.88V56.14H771.86V56.08H772.84V56.03H773.81V55.98H774.79V55.92H775.76V55.87H776.74V55.82H777.72V55.76H778.69V55.71H779.67V55.66H780.65V55.61H781.62V55.55H782.60V55.50H783.55V55.41H784.49V55.32H785.44V55.24H786.39V55.15H787.34V55.06H788.28V54.97H789.23V54.88H790.18V54.79H791.12V54.71H792.07V54.62H793.02V54.53H793.96V54.44H794.91V54.35H795.86V54.26H796.81V54.18H797.75V54.09H798.70V54.00" fill="none" stroke="#FFA500" stroke-width="2.16" stroke-linecap="round" stroke-linejoin="round" stroke-dasharray="8.64 8.64"/>
<path d="M480.00,188.30H480.95V187.95H481.90V187.60H482.85V187.25H483.80V186.90H484.75V186.55H485.70V186.20H486.65V185.85H487.60V185.50H488.54V185.36H489.48V185.22H490.41V185.09H491.35V184.95H492.29V184.81H493.23V184.68H494.16V184.54H495.10V184.40H496.08V183.80H497.06V183.20H498.04V182.60H499.02V182.00H500.00V181.40H501.00V180.97H502.00V180.53H503.00V180.10H504.00V179.67H505.00V179.23H506.00V178.80H506.91V178.37H507.83V177.94H508.74V177.51H509.66V177.09H510.57V176.66H511.49V176.23H512.40V175.80H513.40V175.42H514.40V175.03H515.40V174.65H516.40V174.27H517.40V173.88H518.40V173.50H519.27V173.00H520.13V172.50H521.00V172.00H521.87V171.50H522.73V171.00H523.60V170.50H524.50V170.22H525.40V169.95H526.30V169.68H527.20V169.40H528.10V169.12H529.00V168.85H529.90V168.58H530.80V168.30H531.70V167.70H532.60V167.10H533.50V166.50H534.40V165.90H535.30V165.30H536.27V165.16H537.23V165.01H538.20V164.87H539.17V164.72H540.13V164.58H541.10V164.43H542.07V164.29H543.03V164.14H544.00V164.00H544.99V164.00H545.98V164.00H546.96V164.00H547.95V164.00H548.94V164.00H549.92V164.00H550.91V164.00H551.90V164.00H552.87V163.97H553.83V163.93H554.80V163.90H555.77V163.87H556.73V163.83H557.70V163.80H558.67V163.77H559.63V163.73H560.60V163.70H561.59V163.62H562.58V163.55H563.56V163.47H564.55V163.40H565.54V163.32H566.52V163.25H567.51V163.17H568.50V163.10H569.48V163.08H570.46V163.06H571.45V163.05H572.43V163.03H573.41V163.01H574.39V162.99H575.38V162.98H576.36V162.96H577.34V162.94H578.32V162.92H579.31V162.91H580.29V162.89H581.27V162.87H582.25V162.85H583.24V162.84H584.22V162.82H585.20V162.80H586.17V162.78H587.13V162.76H588.10V162.73H589.07V162.71H590.03V162.69H591.00V162.67H591.97V162.64H592.93V162.62H593.90V162.60H594.89V162.54H595.88V162.47H596.86V162.41H597.85V162.35H598.84V162.29H599.82V162.22H600.81V162.16H601.80V162.10H602.78V162.08H603.75V162.05H604.73V162.03H605.71V162.01H606.68V161.98H607.66V161.96H608.64V161.94H609.61V161.91H610.59V161.89H611.56V161.86H612.54V161.84H613.52V161.82H614.49V161.79H615.47V161.77H616.45V161.75H617.42V161.72H618.40V161.70H619.39V161.61H620.38V161.52H621.36V161.44H622.35V161.35H623.34V161.26H624.32V161.18H625.31V161.09H626.30V161.00H627.27V160.97H628.24V160.94H629.22V160.92H630.19V160.89H631.16V160.86H632.13V160.83H633.11V160.81H634.08V160.78H635.05V160.75H636.02V160.72H636.99V160.69H637.97V160.67H638.94V160.64H639.91V160.61H640.88V160.58H641.86V160.56H642.83V160.53H643.80V160.50H644.80V160.43H645.80V160.36H646.80V160.29H647.80V160.21H648.80V160.14H649.80V160.07H650.80V160.00H651.78V159.96H652.76V159.92H653.73V159.88H654.71V159.84H655.69V159.81H656.67V159.77H657.64V159.73H658.62V159.69H659.60V159.65H660.58V159.61H661.56V159.57H662.53V159.53H663.51V159.49H664.49V159.46H665.47V159.42H666.44V159.38H667.42V159.34H668.40V159.30H669.31V159.32H670.22V159.34H671.13V159.37H672.04V159.39H672.96V159.41H673.87V159.43H674.78V159.46H675.69V159.48H676.60V159.50H677.58V159.45H678.56V159.41H679.55V159.36H680.53V159.31H681.51V159.26H682.49V159.22H683.48V159.17H684.46V159.12H685.44V159.08H686.42V159.03H687.41V158.98H688.39V158.94H689.37V158.89H690.35V158.84H691.34V158.79H692.32V158.75H693.30V158.70H694.28V158.66H695.25V158.63H696.23V158.59H697.21V158.56H698.18V158.52H699.16V158.49H700.14V158.45H701.11V158.42H702.09V158.38H703.06V158.35H704.04V158.31H705.02V158.28H705.99V158.24H706.97V158.21H707.95V158.17H708.92V158.14H709.90V158.10H710.88V158.07H711.85V158.04H712.83V158.01H713.81V157.98H714.78V157.95H715.76V157.92H716.74V157.89H717.71V157.86H718.69V157.84H719.66V157.81H720.64V157.78H721.62V157.75H722.59V157.72H723.57V157.69H724.55V157.66H725.52V157.63H726.50V157.60H727.48V157.58H728.46V157.56H729.45V157.55H730.43V157.53H731.41V157.51H732.39V157.49H733.38V157.48H734.36V157.46H735.34V157.44H736.32V157.42H737.31V157.41H738.29V157.39H739.27V157.37H740.25V157.35H741.24V157.34H742.22V157.32H743.20V157.30H744.18V157.26H745.15V157.23H746.13V157.19H747.11V157.16H748.08V157.12H749.06V157.09H750.04V157.05H751.01V157.02H751.99V156.98H752.96V156.95H753.94V156.91H754.92V156.88H755.89V156.84H756.87V156.81H757.85V156.77H758.82V156.74H759.80V156.70H760.78V156.70H761.75V156.69H762.73V156.69H763.71V156.68H764.68V156.68H765.66V156.68H766.64V156.67H767.62V156.67H768.59V156.67H769.57V156.66H770.55V156.66H771.52V156.65H772.50V156.65H773.48V156.65H774.45V156.64H775.43V156.64H776.41V156.63H777.38V156.63H778.36V156.63H779.34V156.62H780.32V156.62H781.29V156.62H782.27V156.61H783.25V156.61H784.22V156.60H785.20V156.60H786.19V156.46H787.18V156.32H788.16V156.19H789.15V156.05H790.14V155.91H791.12V155.78H792.11V155.64H793.10V155.50H794.03V155.47H794.97V155.43H795.90V155.40H796.83V155.37H797.77V155.33H798.70V155.30" fill="none" stroke="#0000FF" stroke-width="2.16" stroke-linecap="round" stroke-linejoin="round" stroke-dasharray="2.16 6.48"/>
<path d="M480.00,188.00H481.00V187.99H482.00V187.99H483.00V187.98H484.00V187.97H485.00V187.97H486.00V187.96H487.00V187.95H488.00V187.95H489.00V187.94H490.00V187.93H491.00V187.93H492.00V187.92H493.00V187.91H494.00V187.91H495.00V187.90H496.00V187.89H497.00V187.89H498.00V187.88H499.00V187.87H500.00V187.87H501.00V187.86H502.00V187.85H503.00V187.85H504.00V187.84H505.00V187.83H506.00V187.83H507.00V187.82H508.00V187.81H509.00V187.81H510.00V187.80H511.00V187.79H512.00V187.79H513.00V187.78H514.00V187.77H515.00V187.77H516.00V187.76H517.00V187.75H518.00V187.75H519.00V187.74H520.00V187.73H521.00V187.73H522.00V187.72H523.00V187.71H524.00V187.71H525.00V187.70H526.00V187.69H527.00V187.69H528.00V187.68H529.00V187.67H530.00V187.67H531.00V187.66H532.00V187.65H533.00V187.65H534.00V187.64H535.00V187.63H536.00V187.63H537.00V187.62H538.00V187.61H539.00V187.61H540.00V187.60H541.00V187.59H542.00V187.59H543.00V187.58H544.00V187.57H545.00V187.57H546.00V187.56H547.00V187.55H548.00V187.55H549.00V187.54H550.00V187.53H551.00V187.53H552.00V187.52H553.00V187.51H554.00V187.51H555.00V187.50H556.00V187.49H557.00V187.49H558.00V187.48H559.00V187.47H560.00V187.47H561.00V187.46H562.00V187.45H563.00V187.45H564.00V187.44H565.00V187.43H566.00V187.43H567.00V187.42H568.00V187.41H569.00V187.41H570.00V187.40H571.00V187.39H572.00V187.39H573.00V187.38H574.00V187.37H575.00V187.37H576.00V187.36H577.00V187.35H578.00V187.35H579.00V187.34H580.00V187.33H581.00V187.33H582.00V187.32H583.00V187.31H584.00V187.31H585.00V187.30H586.00V187.29H587.00V187.29H588.00V187.28H589.00V187.27H590.00V187.27H591.00V187.26H592.00V187.25H593.00V187.25H594.00V187.24H595.00V187.23H596.00V187.23H597.00V187.22H598.00V187.21H599.00V187.21H600.00V187.20H601.00V187.20H602.00V187.20H603.00V187.20H604.00V187.19H605.00V187.19H606.00V187.19H607.00V187.19H608.00V187.19H609.00V187.19H610.00V187.19H611.00V187.18H612.00V187.18H613.00V187.18H614.00V187.18H615.00V187.18H616.00V187.18H617.00V187.17H618.00V187.17H619.00V187.17H620.00V187.17H621.00V187.17H622.00V187.17H623.00V187.17H624.00V187.16H625.00V187.16H626.00V187.16H627.00V187.16H628.00V187.16H629.00V187.16H630.00V187.16H631.00V187.15H632.00V187.15H633.00V187.15H634.00V187.15H635.00V187.15H636.00V187.15H637.00V187.14H638.00V187.14H639.00V187.14H640.00V187.14H641.00V187.14H642.00V187.14H643.00V187.14H644.00V187.13H645.00V187.13H646.00V187.13H647.00V187.13H648.00V187.13H649.00V187.13H650.00V187.12H651.00V187.12H652.00V187.12H653.00V187.12H654.00V187.12H655.00V187.12H656.00V187.12H657.00V187.11H658.00V187.11H659.00V187.11H660.00V187.11H661.00V187.11H662.00V187.11H663.00V187.11H664.00V187.10H665.00V187.10H666.00V187.10H667.00V187.10H668.00V187.10H669.00V187.10H670.00V187.09H671.00V187.09H672.00V187.09H673.00V187.09H674.00V187.09H675.00V187.09H676.00V187.09H677.00V187.08H678.00V187.08H679.00V187.08H680.00V187.08H681.00V187.08H682.00V187.08H683.00V187.08H684.00V187.07H685.00V187.07H686.00V187.07H687.00V187.07H688.00V187.07H689.00V187.07H690.00V187.06H691.00V187.06H692.00V187.06H693.00V187.06H694.00V187.06H695.00V187.06H696.00V187.06H697.00V187.05H698.00V187.05H699.00V187.05H700.00V187.05H701.00V187.05H702.00V187.05H703.00V187.05H704.00V187.04H705.00V187.04H706.00V187.04H707.00V187.04H708.00V187.04H709.00V187.04H710.00V187.03H711.00V187.03H712.00V187.03H713.00V187.03H714.00V187.03H715.00V187.03H716.00V187.03H717.00V187.02H718.00V187.02H719.00V187.02H720.00V187.02H721.00V187.02H722.00V187.02H723.00V187.02H724.00V187.01H725.00V187.01H726.00V187.01H727.00V187.01H728.00V187.01H729.00V187.01H730.00V187.00H731.00V187.00H732.00V187.00H733.00V187.00H734.00V187.00H735.00V187.00H736.00V187.00H737.00V186.99H738.00V186.99H739.00V186.99H740.00V186.99H741.00V186.99H742.00V186.99H743.00V186.99H744.00V186.98H745.00V186.98H746.00V186.98H747.00V186.98H748.00V186.98H749.00V186.98H750.00V186.97H751.00V186.97H752.00V186.97H753.00V186.97H754.00V186.97H755.00V186.97H756.00V186.97H757.00V186.96H758.00V186.96H759.00V186.96H760.00V186.96H761.00V186.96H762.00V186.96H763.00V186.96H764.00V186.95H765.00V186.95H766.00V186.95H767.00V186.95H768.00V186.95H769.00V186.95H770.00V186.94H771.00V186.94H772.00V186.94H773.00V186.94H774.00V186.94H775.00V186.94H776.00V186.94H777.00V186.93H778.00V186.93H779.00V186.93H780.00V186.93H781.00V186.93H782.00V186.93H783.00V186.93H784.00V186.92H785.00V186.92H786.00V186.92H787.00V186.92H788.00V186.92H789.00V186.92H790.00V186.91H791.00V186.91H792.00V186.91H793.00V186.91H794.00V186.91H795.00V186.91H796.00V186.91H797.00V186.90H798.00V186.90H799.00V186.90H800.00V186.90" fill="none" stroke="#00FF00" stroke-width="2.16" stroke-linecap="round" stroke-linejoin="round" stroke-dasharray="15.12 6.48"/>
<path d="M480.00,187.80H481.00V187.79H482.00V187.79H483.00V187.78H484.00V187.77H485.00V187.77H486.00V187.76H487.00V187.75H488.00V187.75H489.00V187.74H490.00V187.73H491.00V187.73H492.00V187.72H493.00V187.71H494.00V187.71H495.00V187.70H496.00V187.69H497.00V187.69H498.00V187.68H499.00V187.67H500.00V187.67H501.00V187.66H502.00V187.65H503.00V187.65H504.00V187.64H505.00V187.63H506.00V187.63H507.00V187.62H508.00V187.61H509.00V187.61H510.00V187.60H511.00V187.59H512.00V187.59H513.00V187.58H514.00V187.57H515.00V187.57H516.00V187.56H517.00V187.55H518.00V187.55H519.00V187.54H520.00V187.53H521.00V187.53H522.00V187.52H523.00V187.51H524.00V187.51H525.00V187.50H526.00V187.49H527.00V187.49H528.00V187.48H529.00V187.47H530.00V187.47H531.00V187.46H532.00V187.45H533.00V187.45H534.00V187.44H535.00V187.43H536.00V187.43H537.00V187.42H538.00V187.41H539.00V187.41H540.00V187.40H541.00V187.39H542.00V187.39H543.00V187.38H544.00V187.37H545.00V187.37H546.00V187.36H547.00V187.35H548.00V187.35H549.00V187.34H550.00V187.33H551.00V187.33H552.00V187.32H553.00V187.31H554.00V187.31H555.00V187.30H556.00V187.29H557.00V187.29H558.00V187.28H559.00V187.27H560.00V187.27H561.00V187.26H562.00V187.25H563.00V187.25H564.00V187.24H565.00V187.23H566.00V187.23H567.00V187.22H568.00V187.21H569.00V187.21H570.00V187.20H571.00V187.19H572.00V187.19H573.00V187.18H574.00V187.17H575.00V187.17H576.00V187.16H577.00V187.15H578.00V187.15H579.00V187.14H580.00V187.13H581.00V187.13H582.00V187.12H583.00V187.11H584.00V187.11H585.00V187.10H586.00V187.09H587.00V187.09H588.00V187.08H589.00V187.07H590.00V187.07H591.00V187.06H592.00V187.05H593.00V187.05H594.00V187.04H595.00V187.03H596.00V187.03H597.00V187.02H598.00V187.01H599.00V187.01H600.00V187.00H601.00V187.00H602.00V187.00H603.00V187.00H604.00V187.00H605.00V187.00H606.00V186.99H607.00V186.99H608.00V186.99H609.00V186.99H610.00V186.99H611.00V186.99H612.00V186.99H613.00V186.99H614.00V186.99H615.00V186.99H616.00V186.98H617.00V186.98H618.00V186.98H619.00V186.98H620.00V186.98H621.00V186.98H622.00V186.98H623.00V186.98H624.00V186.98H625.00V186.97H626.00V186.97H627.00V186.97H628.00V186.97H629.00V186.97H630.00V186.97H631.00V186.97H632.00V186.97H633.00V186.97H634.00V186.97H635.00V186.97H636.00V186.96H637.00V186.96H638.00V186.96H639.00V186.96H640.00V186.96H641.00V186.96H642.00V186.96H643.00V186.96H644.00V186.96H645.00V186.96H646.00V186.95H647.00V186.95H648.00V186.95H649.00V186.95H650.00V186.95H651.00V186.95H652.00V186.95H653.00V186.95H654.00V186.95H655.00V186.94H656.00V186.94H657.00V186.94H658.00V186.94H659.00V186.94H660.00V186.94H661.00V186.94H662.00V186.94H663.00V186.94H664.00V186.94H665.00V186.94H666.00V186.93H667.00V186.93H668.00V186.93H669.00V186.93H670.00V186.93H671.00V186.93H672.00V186.93H673.00V186.93H674.00V186.93H675.00V186.93H676.00V186.92H677.00V186.92H678.00V186.92H679.00V186.92H680.00V186.92H681.00V186.92H682.00V186.92H683.00V186.92H684.00V186.92H685.00V186.91H686.00V186.91H687.00V186.91H688.00V186.91H689.00V186.91H690.00V186.91H691.00V186.91H692.00V186.91H693.00V186.91H694.00V186.91H695.00V186.91H696.00V186.90H697.00V186.90H698.00V186.90H699.00V186.90H700.00V186.90H701.00V186.90H702.00V186.90H703.00V186.90H704.00V186.90H705.00V186.90H706.00V186.89H707.00V186.89H708.00V186.89H709.00V186.89H710.00V186.89H711.00V186.89H712.00V186.89H713.00V186.89H714.00V186.89H715.00V186.89H716.00V186.88H717.00V186.88H718.00V186.88H719.00V186.88H720.00V186.88H721.00V186.88H722.00V186.88H723.00V186.88H724.00V186.88H725.00V186.88H726.00V186.87H727.00V186.87H728.00V186.87H729.00V186.87H730.00V186.87H731.00V186.87H732.00V186.87H733.00V186.87H734.00V186.87H735.00V186.87H736.00V186.86H737.00V186.86H738.00V186.86H739.00V186.86H740.00V186.86H741.00V186.86H742.00V186.86H743.00V186.86H744.00V186.86H745.00V186.86H746.00V186.85H747.00V186.85H748.00V186.85H749.00V186.85H750.00V186.85H751.00V186.85H752.00V186.85H753.00V186.85H754.00V186.85H755.00V186.84H756.00V186.84H757.00V186.84H758.00V186.84H759.00V186.84H760.00V186.84H761.00V186.84H762.00V186.84H763.00V186.84H764.00V186.84H765.00V186.84H766.00V186.83H767.00V186.83H768.00V186.83H769.00V186.83H770.00V186.83H771.00V186.83H772.00V186.83H773.00V186.83H774.00V186.83H775.00V186.83H776.00V186.82H777.00V186.82H778.00V186.82H779.00V186.82H780.00V186.82H781.00V186.82H782.00V186.82H783.00V186.82H784.00V186.82H785.00V186.81H786.00V186.81H787.00V186.81H788.00V186.81H789.00V186.81H790.00V186.81H791.00V186.81H792.00V186.81H793.00V186.81H794.00V186.81H795.00V186.81H796.00V186.80H797.00V186.80H798.00V186.80H799.00V186.80H800.00V186.80" fill="none" stroke="#A020F0" stroke-width="2.16" stroke-linecap="round" stroke-linejoin="round" stroke-dasharray="4.32 4.32 12.96 4.32"/>
</g>
<clipPath id="cC"><rect x="53.20" y="319.40" width="330.50" height="161.00"/></clipPath>
<path d="M53.20,319.40 L53.20,480.40 L383.70,480.40" fill="none" stroke="#222" stroke-width="1.20" stroke-linecap="square"/>
<path d="M65.70,480.40 L65.70,487.90 M126.84,480.40 L126.84,487.90 M187.98,480.40 L187.98,487.90 M249.12,480.40 L249.12,487.90 M310.26,480.40 L310.26,487.90 M371.40,480.40 L371.40,487.90 M53.20,474.50 L45.70,474.50 M53.20,444.62 L45.70,444.62 M53.20,414.74 L45.70,414.74 M53.20,384.86 L45.70,384.86 M53.20,354.98 L45.70,354.98 M53.20,325.10 L45.70,325.10 " fill="none" stroke="#222" stroke-width="1.20"/>
<text x="65.70" y="505.90" text-anchor="middle" font-size="11.64" font-weight="normal" fill="#262626" stroke="#262626" stroke-width="0.30">0</text>
<text x="126.84" y="505.90" text-anchor="middle" font-size="11.64" font-weight="normal" fill="#262626" stroke="#262626" stroke-width="0.30">1</text>
<text x="187.98" y="505.90" text-anchor="middle" font-size="11.64" font-weight="normal" fill="#262626" stroke="#262626" stroke-width="0.30">2</text>
<text x="249.12" y="505.90" text-anchor="middle" font-size="11.64" font-weight="normal" fill="#262626" stroke="#262626" stroke-width="0.30">3</text>
<text x="310.26" y="505.90" text-anchor="middle" font-size="11.64" font-weight="normal" fill="#262626" stroke="#262626" stroke-width="0.30">4</text>
<text x="371.40" y="505.90" text-anchor="middle" font-size="11.64" font-weight="normal" fill="#262626" stroke="#262626" stroke-width="0.30">5</text>
<text transform="translate(37.60,474.50) rotate(-90)" text-anchor="middle" font-size="11.64" font-weight="normal" fill="#262626" stroke="#262626" stroke-width="0.30">0.00</text>
<text transform="translate(37.60,414.74) rotate(-90)" text-anchor="middle" font-size="11.64" font-weight="normal" fill="#262626" stroke="#262626" stroke-width="0.30">0.10</text>
<text transform="translate(37.60,354.98) rotate(-90)" text-anchor="middle" font-size="11.64" font-weight="normal" fill="#262626" stroke="#262626" stroke-width="0.30">0.20</text>
<text x="217.75" y="298.20" text-anchor="middle" font-size="14.35" font-weight="bold" fill="#111">Panel C: Out of treatment</text>
<text x="218.45" y="532.40" text-anchor="middle" font-size="11.64" font-weight="normal" fill="#3a3a3a" textLength="32.2" stroke="#3a3a3a" stroke-width="0.30">Years</text>
<text transform="translate(10.70,399.90) rotate(-90)" text-anchor="middle" font-size="11.64" font-weight="normal" fill="#3a3a3a" stroke="#3a3a3a" stroke-width="0.30">Cumulative incidence probability</text>
<g clip-path="url(#cC)">
<path d="M65.70,474.00H66.66V473.68H67.63V473.36H68.59V473.05H69.55V472.73H70.52V472.41H71.48V472.09H72.45V471.77H73.41V471.45H74.37V471.14H75.34V470.82H76.30V470.50H77.25V470.32H78.20V470.15H79.15V469.98H80.10V469.80H81.05V469.62H82.00V469.45H82.95V469.27H83.90V469.10H84.85V468.92H85.80V468.75H86.75V468.57H87.70V468.40H88.65V468.29H89.59V468.18H90.54V468.08H91.48V467.97H92.43V467.86H93.38V467.75H94.32V467.65H95.27V467.54H96.22V467.43H97.16V467.32H98.11V467.22H99.05V467.11H100.00V467.00H100.97V466.92H101.94V466.84H102.92V466.77H103.89V466.69H104.86V466.61H105.83V466.53H106.81V466.46H107.78V466.38H108.75V466.30H109.72V466.22H110.69V466.14H111.67V466.07H112.64V465.99H113.61V465.91H114.58V465.83H115.56V465.76H116.53V465.68H117.50V465.60H118.47V465.52H119.44V465.44H120.42V465.37H121.39V465.29H122.36V465.21H123.33V465.13H124.31V465.06H125.28V464.98H126.25V464.90H127.22V464.82H128.19V464.74H129.17V464.67H130.14V464.59H131.11V464.51H132.08V464.43H133.06V464.36H134.03V464.28H135.00V464.20H135.97V464.12H136.94V464.04H137.92V463.97H138.89V463.89H139.86V463.81H140.83V463.73H141.81V463.66H142.78V463.58H143.75V463.50H144.72V463.42H145.69V463.34H146.67V463.27H147.64V463.19H148.61V463.11H149.58V463.03H150.56V462.96H151.53V462.88H152.50V462.80H153.47V462.73H154.44V462.66H155.42V462.58H156.39V462.51H157.36V462.44H158.33V462.37H159.31V462.29H160.28V462.22H161.25V462.15H162.22V462.08H163.19V462.01H164.17V461.93H165.14V461.86H166.11V461.79H167.08V461.72H168.06V461.64H169.03V461.57H170.00V461.50H170.98V461.42H171.96V461.34H172.93V461.27H173.91V461.19H174.89V461.11H175.87V461.03H176.84V460.96H177.82V460.88H178.80V460.80H179.78V460.72H180.76V460.64H181.73V460.57H182.71V460.49H183.69V460.41H184.67V460.33H185.64V460.26H186.62V460.18H187.60V460.10H188.57V460.03H189.53V459.97H190.50V459.90H191.47V459.83H192.43V459.77H193.40V459.70H194.37V459.63H195.33V459.57H196.30V459.50H197.27V459.43H198.23V459.37H199.20V459.30H200.17V459.23H201.13V459.17H202.10V459.10H203.07V459.03H204.03V458.97H205.00V458.90H205.98V458.85H206.96V458.80H207.93V458.75H208.91V458.70H209.89V458.65H210.87V458.60H211.84V458.55H212.82V458.50H213.80V458.45H214.78V458.40H215.76V458.35H216.73V458.30H217.71V458.25H218.69V458.20H219.67V458.15H220.64V458.10H221.62V458.05H222.60V458.00H223.55V457.97H224.49V457.93H225.44V457.90H226.39V457.87H227.33V457.83H228.28V457.80H229.23V457.77H230.17V457.73H231.12V457.70H232.07V457.67H233.01V457.63H233.96V457.60H234.91V457.57H235.85V457.53H236.80V457.50H237.80V457.50H238.79V457.50H239.79V457.50H240.79V457.50H241.79V457.50H242.78V457.50H243.78V457.50H244.78V457.50H245.78V457.50H246.77V457.50H247.77V457.50H248.77V457.50H249.76V457.50H250.76V457.50H251.76V457.50H252.76V457.50H253.75V457.50H254.75V457.50H255.75V457.50H256.74V457.50H257.74V457.50H258.74V457.50H259.74V457.50H260.73V457.50H261.73V457.50H262.73V457.50H263.73V457.50H264.72V457.50H265.72V457.50H266.72V457.50H267.71V457.50H268.71V457.50H269.71V457.50H270.71V457.50H271.70V457.50H272.70V457.50H273.57V457.10H274.43V456.70H275.30V456.30H276.29V456.30H277.28V456.30H278.27V456.30H279.26V456.30H280.24V456.30H281.23V456.30H282.22V456.30H283.21V456.30H284.20V456.30H285.19V456.30H286.18V456.30H287.17V456.30H288.16V456.30H289.14V456.30H290.13V456.30H291.12V456.30H292.11V456.30H293.10V456.30H294.09V456.30H295.08V456.30H296.07V456.30H297.06V456.30H298.04V456.30H299.03V456.30H300.02V456.30H301.01V456.30H302.00V456.30H302.99V456.30H303.98V456.30H304.97V456.30H305.96V456.30H306.94V456.30H307.93V456.30H308.92V456.30H309.91V456.30H310.90V456.30H311.89V456.30H312.88V456.30H313.87V456.30H314.86V456.30H315.84V456.30H316.83V456.30H317.82V456.30H318.81V456.30H319.80V456.30H320.79V456.30H321.78V456.30H322.77V456.30H323.76V456.30H324.74V456.30H325.73V456.30H326.72V456.30H327.71V456.30H328.70V456.30H329.55V455.75H330.40V455.20H331.38V455.20H332.36V455.20H333.34V455.20H334.31V455.20H335.29V455.20H336.27V455.20H337.25V455.20H338.23V455.20H339.21V455.20H340.19V455.20H341.16V455.20H342.14V455.20H343.12V455.20H344.10V455.20H345.08V455.20H346.06V455.20H347.04V455.20H348.01V455.20H348.99V455.20H349.97V455.20H350.95V455.20H351.93V455.20H352.91V455.20H353.89V455.20H354.86V455.20H355.84V455.20H356.82V455.20H357.80V455.20H358.78V455.20H359.76V455.20H360.74V455.20H361.71V455.20H362.69V455.20H363.67V455.20H364.65V455.20H365.63V455.20H366.61V455.20H367.59V455.20H368.56V455.20H369.54V455.20H370.52V455.20H371.50V455.20" fill="none" stroke="#000000" stroke-width="2.16" stroke-linecap="round" stroke-linejoin="round"/>
<path d="M65.70,474.00H65.77V473.07H65.83V472.13H65.90V471.20H65.97V470.27H66.03V469.33H66.10V468.40H66.17V467.47H66.23V466.53H66.30V465.60H66.43V464.70H66.57V463.80H66.70V462.90H66.83V462.00H66.97V461.10H67.10V460.20H67.23V459.30H67.37V458.40H67.50V457.50H67.62V456.55H67.75V455.60H67.88V454.65H68.00V453.70H68.12V452.75H68.25V451.80H68.38V450.85H68.50V449.90H68.71V448.95H68.93V448.00H69.14V447.05H69.36V446.10H69.57V445.15H69.79V444.20H70.00V443.25H70.21V442.30H70.43V441.35H70.64V440.40H70.86V439.45H71.07V438.50H71.29V437.55H71.50V436.60H71.84V435.66H72.19V434.71H72.53V433.77H72.87V432.83H73.21V431.89H73.56V430.94H73.90V430.00H74.30V429.11H74.70V428.23H75.10V427.34H75.50V426.46H75.90V425.57H76.30V424.69H76.70V423.80H77.04V422.91H77.39V422.03H77.73V421.14H78.07V420.26H78.41V419.37H78.76V418.49H79.10V417.60H79.76V416.64H80.42V415.68H81.08V414.72H81.74V413.76H82.40V412.80H83.03V411.93H83.67V411.07H84.30V410.20H84.93V409.33H85.57V408.47H86.20V407.60H86.96V406.62H87.72V405.64H88.48V404.66H89.24V403.68H90.00V402.70H90.96V401.71H91.92V400.72H92.88V399.73H93.84V398.74H94.80V397.75H95.76V396.76H96.72V395.77H97.68V394.78H98.64V393.79H99.60V392.80H100.55V392.17H101.50V391.54H102.45V390.91H103.40V390.28H104.35V389.65H105.30V389.02H106.25V388.39H107.20V387.76H108.15V387.13H109.10V386.50H110.02V385.97H110.95V385.43H111.88V384.90H112.80V384.37H113.72V383.83H114.65V383.30H115.58V382.77H116.50V382.23H117.42V381.70H118.35V381.17H119.28V380.63H120.20V380.10H121.12V379.71H122.05V379.32H122.98V378.93H123.90V378.53H124.83V378.14H125.75V377.75H126.68V377.36H127.60V376.97H128.53V376.57H129.45V376.18H130.38V375.79H131.30V375.40H132.28V375.03H133.25V374.66H134.23V374.29H135.21V373.92H136.18V373.55H137.16V373.18H138.14V372.82H139.12V372.45H140.09V372.08H141.07V371.71H142.05V371.34H143.02V370.97H144.00V370.60H144.98V370.29H145.95V369.98H146.93V369.68H147.91V369.37H148.88V369.06H149.86V368.75H150.84V368.45H151.82V368.14H152.79V367.83H153.77V367.52H154.75V367.22H155.72V366.91H156.70V366.60H157.68V366.43H158.66V366.25H159.64V366.08H160.62V365.91H161.60V365.73H162.58V365.56H163.56V365.39H164.54V365.21H165.52V365.04H166.50V364.87H167.48V364.69H168.46V364.52H169.44V364.35H170.42V364.17H171.40V364.00H172.34V363.80H173.28V363.60H174.21V363.40H175.15V363.20H176.09V363.00H177.03V362.80H177.96V362.60H178.90V362.40H179.85V362.17H180.80V361.95H181.75V361.73H182.70V361.50H183.65V361.27H184.60V361.05H185.55V360.83H186.50V360.60H187.39V360.41H188.27V360.23H189.16V360.04H190.04V359.86H190.93V359.67H191.81V359.49H192.70V359.30H193.65V359.09H194.60V358.88H195.55V358.66H196.50V358.45H197.45V358.24H198.40V358.03H199.35V357.81H200.30V357.60H201.24V357.46H202.18V357.33H203.11V357.19H204.05V357.05H204.99V356.91H205.93V356.77H206.86V356.64H207.80V356.50H208.75V356.38H209.70V356.25H210.65V356.12H211.60V356.00H212.55V355.88H213.50V355.75H214.45V355.62H215.40V355.50H216.39V355.48H217.38V355.46H218.37V355.43H219.36V355.41H220.34V355.39H221.33V355.37H222.32V355.34H223.31V355.32H224.30V355.30H225.25V355.19H226.20V355.07H227.15V354.96H228.10V354.85H229.05V354.74H230.00V354.62H230.95V354.51H231.90V354.40H232.85V354.38H233.80V354.35H234.75V354.32H235.70V354.30H236.65V354.27H237.60V354.25H238.55V354.22H239.50V354.20H240.41V354.10H241.32V354.00H242.23V353.90H243.14V353.80H244.06V353.70H244.97V353.60H245.88V353.50H246.79V353.40H247.70V353.30H248.62V353.20H249.54V353.10H250.47V353.00H251.39V352.90H252.31V352.80H253.23V352.70H254.16V352.60H255.08V352.50H256.00V352.40H256.94V352.26H257.88V352.12H258.81V351.99H259.75V351.85H260.69V351.71H261.62V351.57H262.56V351.44H263.50V351.30H264.49V351.29H265.48V351.29H266.46V351.28H267.45V351.28H268.44V351.27H269.43V351.26H270.42V351.26H271.41V351.25H272.39V351.25H273.38V351.24H274.37V351.24H275.36V351.23H276.35V351.22H277.34V351.22H278.32V351.21H279.31V351.21H280.30V351.20H281.25V351.06H282.20V350.93H283.15V350.79H284.10V350.65H285.05V350.51H286.00V350.38H286.95V350.24H287.90V350.10H288.84V349.96H289.77V349.83H290.71V349.69H291.65V349.55H292.59V349.41H293.52V349.27H294.46V349.14H295.40V349.00H296.32V348.98H297.24V348.96H298.17V348.93H299.09V348.91H300.01V348.89H300.93V348.87H301.86V348.84H302.78V348.82H303.70V348.80H304.65V348.71H305.60V348.62H306.55V348.54H307.50V348.45H308.45V348.36H309.40V348.28H310.35V348.19H311.30V348.10H312.29V348.09H313.28V348.08H314.27V348.07H315.26V348.06H316.24V348.04H317.23V348.03H318.22V348.02H319.21V348.01H320.20V348.00H321.15V347.89H322.10V347.77H323.05V347.66H324.00V347.55H324.95V347.44H325.90V347.33H326.85V347.21H327.80V347.10H328.71V347.09H329.62V347.08H330.53V347.07H331.44V347.06H332.36V347.04H333.27V347.03H334.18V347.02H335.09V347.01H336.00V347.00H336.95V346.88H337.90V346.75H338.85V346.62H339.80V346.50H340.75V346.38H341.70V346.25H342.65V346.12H343.60V346.00H344.55V345.86H345.50V345.73H346.45V345.59H347.40V345.45H348.35V345.31H349.30V345.17H350.25V345.04H351.20V344.90H352.07V344.67H352.94V344.44H353.81V344.21H354.69V343.99H355.56V343.76H356.43V343.53H357.30V343.30H358.25V343.04H359.20V342.77H360.15V342.51H361.10V342.25H362.05V341.99H363.00V341.73H363.95V341.46H364.90V341.20" fill="none" stroke="#0000FF" stroke-width="2.16" stroke-linecap="round" stroke-linejoin="round" stroke-dasharray="2.16 6.48"/>
<path d="M65.70,474.00H65.77V473.07H65.83V472.13H65.90V471.20H65.97V470.27H66.03V469.33H66.10V468.40H66.17V467.47H66.23V466.53H66.30V465.60H66.48V464.64H66.66V463.68H66.84V462.72H67.02V461.76H67.20V460.80H67.39V459.85H67.58V458.90H67.76V457.95H67.95V457.00H68.14V456.05H68.33V455.10H68.51V454.15H68.70V453.20H68.91V452.26H69.12V451.31H69.33V450.37H69.54V449.42H69.76V448.48H69.97V447.53H70.18V446.59H70.39V445.64H70.60V444.70H70.85V443.75H71.11V442.79H71.36V441.84H71.62V440.88H71.87V439.93H72.13V438.97H72.38V438.02H72.64V437.06H72.89V436.11H73.15V435.15H73.40V434.20H74.05V433.25H74.70V432.30H75.35V431.35H76.00V430.40H76.65V429.45H77.30V428.50H77.95V427.55H78.60V426.60H79.29V425.66H79.97V424.71H80.66V423.77H81.34V422.83H82.03V421.89H82.71V420.94H83.40V420.00H84.07V419.11H84.74V418.23H85.41V417.34H86.09V416.46H86.76V415.57H87.43V414.69H88.10V413.80H89.06V412.99H90.01V412.17H90.97V411.36H91.93V410.54H92.89V409.73H93.84V408.91H94.80V408.10H95.69V407.45H96.58V406.80H97.46V406.15H98.35V405.50H99.24V404.85H100.12V404.20H101.01V403.55H101.90V402.90H102.90V402.26H103.90V401.62H104.90V400.97H105.90V400.33H106.90V399.69H107.90V399.05H108.90V398.41H109.90V397.77H110.90V397.12H111.90V396.48H112.90V395.84H113.90V395.20H114.88V394.83H115.85V394.46H116.83V394.09H117.81V393.72H118.78V393.35H119.76V392.98H120.74V392.62H121.72V392.25H122.69V391.88H123.67V391.51H124.65V391.14H125.62V390.77H126.60V390.40H127.57V390.15H128.54V389.91H129.51V389.66H130.48V389.42H131.45V389.17H132.42V388.92H133.38V388.68H134.35V388.43H135.32V388.18H136.29V387.94H137.26V387.69H138.23V387.45H139.20V387.20H140.18V386.96H141.15V386.72H142.13V386.48H143.11V386.25H144.08V386.01H145.06V385.77H146.04V385.53H147.02V385.29H147.99V385.05H148.97V384.82H149.95V384.58H150.92V384.34H151.90V384.10H152.88V383.92H153.85V383.73H154.83V383.55H155.81V383.36H156.78V383.18H157.76V382.99H158.74V382.81H159.72V382.62H160.69V382.44H161.67V382.25H162.65V382.07H163.62V381.88H164.60V381.70H165.51V381.58H166.42V381.46H167.33V381.33H168.24V381.21H169.16V381.09H170.07V380.97H170.98V380.84H171.89V380.72H172.80V380.60H173.80V380.47H174.80V380.35H175.80V380.22H176.80V380.09H177.80V379.96H178.80V379.84H179.80V379.71H180.80V379.58H181.80V379.45H182.80V379.33H183.80V379.20H184.78V379.05H185.76V378.90H186.74V378.75H187.71V378.60H188.69V378.45H189.67V378.30H190.65V378.15H191.63V378.00H192.61V377.85H193.59V377.70H194.56V377.55H195.54V377.40H196.52V377.25H197.50V377.10H198.49V377.03H199.49V376.96H200.48V376.88H201.48V376.81H202.47V376.74H203.47V376.67H204.46V376.59H205.46V376.52H206.45V376.45H207.44V376.38H208.44V376.31H209.43V376.23H210.43V376.16H211.42V376.09H212.42V376.02H213.41V375.94H214.41V375.87H215.40V375.80H216.38V375.72H217.36V375.64H218.34V375.56H219.31V375.49H220.29V375.41H221.27V375.33H222.25V375.25H223.23V375.17H224.21V375.09H225.19V375.01H226.16V374.94H227.14V374.86H228.12V374.78H229.10V374.70H230.03V374.61H230.95V374.52H231.88V374.43H232.80V374.33H233.72V374.24H234.65V374.15H235.57V374.06H236.50V373.97H237.42V373.88H238.35V373.78H239.27V373.69H240.20V373.60H241.20V373.52H242.20V373.44H243.20V373.35H244.20V373.27H245.20V373.19H246.20V373.11H247.20V373.03H248.20V372.95H249.20V372.86H250.20V372.78H251.20V372.70H252.20V372.63H253.20V372.55H254.20V372.48H255.20V372.41H256.20V372.34H257.20V372.26H258.20V372.19H259.20V372.12H260.20V372.05H261.20V371.97H262.20V371.90H263.20V371.85H264.20V371.81H265.20V371.76H266.20V371.72H267.20V371.67H268.20V371.63H269.20V371.58H270.20V371.54H271.20V371.49H272.20V371.45H273.20V371.40H274.16V371.39H275.13V371.38H276.09V371.37H277.05V371.36H278.02V371.35H278.98V371.35H279.95V371.34H280.91V371.33H281.87V371.32H282.84V371.31H283.80V371.30H284.80V371.25H285.80V371.21H286.80V371.16H287.80V371.12H288.80V371.07H289.80V371.03H290.80V370.98H291.80V370.94H292.80V370.89H293.80V370.85H294.80V370.80H295.75V370.78H296.69V370.75H297.64V370.73H298.58V370.71H299.53V370.68H300.48V370.66H301.42V370.64H302.37V370.62H303.32V370.59H304.26V370.57H305.21V370.55H306.15V370.52H307.10V370.50H308.10V370.43H309.10V370.35H310.10V370.28H311.10V370.21H312.10V370.14H313.10V370.06H314.10V369.99H315.10V369.92H316.10V369.85H317.10V369.77H318.10V369.70H319.10V369.61H320.10V369.52H321.10V369.43H322.10V369.34H323.10V369.25H324.10V369.15H325.10V369.06H326.10V368.97H327.10V368.88H328.10V368.79H329.10V368.70H330.03V368.68H330.95V368.65H331.88V368.62H332.80V368.60H333.73V368.57H334.65V368.55H335.57V368.52H336.50V368.50H337.43V368.47H338.35V368.45H339.27V368.42H340.20V368.40H341.15V368.37H342.09V368.34H343.04V368.31H343.98V368.28H344.93V368.25H345.88V368.22H346.82V368.18H347.77V368.15H348.72V368.12H349.66V368.09H350.61V368.06H351.55V368.03H352.50V368.00H353.50V368.00H354.50V368.00H355.50V368.00H356.50V368.00H357.50V368.00H358.50V368.00H359.50V368.00H360.50V368.00H361.50V368.00H362.50V368.00H363.50V368.00H364.50V368.00H365.50V368.00H366.50V368.00H366.95V367.00H367.40V366.00H367.45V365.00H367.50V364.00H367.55V363.00H367.60V362.00H367.65V361.00H367.70V360.00H368.55V360.00H369.40V360.00H370.25V360.00H371.10V360.00" fill="none" stroke="#FF0000" stroke-width="2.16" stroke-linecap="round" stroke-linejoin="round" stroke-dasharray="2.16 6.48 8.64 6.48"/>
<path d="M65.30,474.00H65.68V473.07H66.06V472.13H66.43V471.20H66.81V470.27H67.19V469.33H67.57V468.40H67.94V467.47H68.32V466.53H68.70V465.60H69.30V464.65H69.90V463.69H70.50V462.74H71.10V461.78H71.70V460.83H72.30V459.87H72.90V458.92H73.50V457.96H74.10V457.01H74.70V456.05H75.30V455.10H75.91V454.15H76.52V453.21H77.13V452.26H77.74V451.32H78.35V450.37H78.95V449.43H79.56V448.48H80.17V447.54H80.78V446.59H81.39V445.65H82.00V444.70H82.95V443.86H83.90V443.02H84.85V442.19H85.80V441.35H86.75V440.51H87.70V439.68H88.65V438.84H89.60V438.00H90.54V437.06H91.49V436.11H92.43V435.17H93.37V434.23H94.31V433.29H95.26V432.34H96.20V431.40H97.15V430.56H98.10V429.72H99.05V428.89H100.00V428.05H100.95V427.21H101.90V426.38H102.85V425.54H103.80V424.70H104.76V424.23H105.71V423.76H106.67V423.29H107.63V422.81H108.59V422.34H109.54V421.87H110.50V421.40H111.40V420.60H112.30V419.80H113.20V419.00H114.10V418.20H115.00V417.40H115.90V416.60H116.80V415.80H117.70V415.00H118.60V414.20H119.52V413.73H120.45V413.27H121.38V412.80H122.30V412.33H123.22V411.87H124.15V411.40H125.07V410.93H126.00V410.47H126.92V410.00H127.85V409.53H128.77V409.07H129.70V408.60H130.68V408.18H131.65V407.75H132.63V407.33H133.61V406.91H134.58V406.48H135.56V406.06H136.54V405.64H137.52V405.22H138.49V404.79H139.47V404.37H140.45V403.95H141.42V403.52H142.40V403.10H143.38V402.73H144.35V402.36H145.33V401.99H146.31V401.62H147.28V401.25H148.26V400.88H149.24V400.52H150.22V400.15H151.19V399.78H152.17V399.41H153.15V399.04H154.12V398.67H155.10V398.30H156.08V398.00H157.05V397.70H158.03V397.40H159.01V397.10H159.98V396.80H160.96V396.50H161.94V396.20H162.92V395.90H163.89V395.60H164.87V395.30H165.85V395.00H166.82V394.70H167.80V394.40H168.73V394.16H169.65V393.92H170.58V393.67H171.50V393.43H172.43V393.19H173.35V392.95H174.28V392.71H175.20V392.47H176.12V392.23H177.05V391.98H177.97V391.74H178.90V391.50H179.84V391.31H180.77V391.11H181.71V390.92H182.64V390.73H183.58V390.54H184.51V390.34H185.45V390.15H186.39V389.96H187.32V389.76H188.26V389.57H189.19V389.38H190.13V389.19H191.06V388.99H192.00V388.80H193.00V388.55H194.00V388.31H195.00V388.06H196.00V387.82H197.00V387.57H198.00V387.33H199.00V387.08H200.00V386.84H201.00V386.59H202.00V386.35H203.00V386.10H203.95V385.92H204.91V385.73H205.86V385.55H206.82V385.36H207.77V385.18H208.72V384.99H209.68V384.81H210.63V384.62H211.58V384.44H212.54V384.25H213.49V384.07H214.45V383.88H215.40V383.70H216.40V383.55H217.40V383.39H218.40V383.24H219.40V383.08H220.40V382.93H221.40V382.77H222.40V382.62H223.40V382.46H224.40V382.31H225.40V382.15H226.40V382.00H227.40V381.87H228.40V381.75H229.40V381.62H230.40V381.49H231.40V381.36H232.40V381.24H233.40V381.11H234.40V380.98H235.40V380.85H236.40V380.73H237.40V380.60H238.40V380.47H239.40V380.35H240.40V380.22H241.40V380.09H242.40V379.96H243.40V379.84H244.40V379.71H245.40V379.58H246.40V379.45H247.40V379.33H248.40V379.20H249.40V379.04H250.40V378.87H251.40V378.71H252.40V378.55H253.40V378.38H254.40V378.22H255.40V378.05H256.40V377.89H257.40V377.73H258.40V377.56H259.40V377.40H260.35V377.29H261.31V377.18H262.26V377.08H263.22V376.97H264.17V376.86H265.12V376.75H266.08V376.65H267.03V376.54H267.98V376.43H268.94V376.32H269.89V376.22H270.85V376.11H271.80V376.00H272.80V375.97H273.80V375.93H274.80V375.90H275.80V375.87H276.80V375.83H277.80V375.80H278.80V375.77H279.80V375.73H280.80V375.70H281.80V375.67H282.80V375.63H283.80V375.60H284.76V375.46H285.72V375.32H286.68V375.18H287.64V375.04H288.60V374.90H289.56V374.76H290.52V374.62H291.48V374.48H292.44V374.34H293.40V374.20H294.40V374.11H295.40V374.02H296.40V373.93H297.40V373.84H298.40V373.75H299.40V373.65H300.40V373.56H301.40V373.47H302.40V373.38H303.40V373.29H304.40V373.20H305.36V373.09H306.32V372.98H307.28V372.87H308.24V372.76H309.20V372.65H310.16V372.54H311.12V372.43H312.08V372.32H313.04V372.21H314.00V372.10H315.00V372.00H316.00V371.90H317.00V371.80H318.00V371.70H319.00V371.60H320.00V371.50H321.00V371.40H322.00V371.30H323.00V371.20H324.00V371.10H325.00V371.00H326.00V370.95H327.00V370.91H328.00V370.86H329.00V370.82H330.00V370.77H331.00V370.73H332.00V370.68H333.00V370.64H334.00V370.59H335.00V370.55H336.00V370.50H337.00V370.43H338.00V370.35H339.00V370.28H340.00V370.21H341.00V370.14H342.00V370.06H343.00V369.99H344.00V369.92H345.00V369.85H346.00V369.77H347.00V369.70H348.00V369.67H349.00V369.65H350.00V369.62H351.00V369.59H352.00V369.56H353.00V369.54H354.00V369.51H355.00V369.48H356.00V369.45H357.00V369.43H358.00V369.40H358.99V369.36H359.97V369.31H360.96V369.27H361.94V369.23H362.93V369.19H363.91V369.14H364.90V369.10H365.79V369.14H366.67V369.19H367.56V369.23H368.44V369.27H369.33V369.31H370.21V369.36H371.10V369.40" fill="none" stroke="#00FF00" stroke-width="2.16" stroke-linecap="round" stroke-linejoin="round" stroke-dasharray="15.12 6.48"/>
<path d="M65.70,474.00H66.66V473.58H67.63V473.16H68.59V472.75H69.55V472.33H70.52V471.91H71.48V471.49H72.45V471.07H73.41V470.65H74.37V470.24H75.34V469.82H76.30V469.40H77.25V469.16H78.20V468.92H79.15V468.67H80.10V468.43H81.05V468.19H82.00V467.95H82.95V467.71H83.90V467.47H84.85V467.23H85.80V466.98H86.75V466.74H87.70V466.50H88.65V466.31H89.59V466.12H90.54V465.92H91.48V465.73H92.43V465.54H93.38V465.35H94.32V465.15H95.27V464.96H96.22V464.77H97.16V464.58H98.11V464.38H99.05V464.19H100.00V464.00H100.97V463.88H101.94V463.77H102.92V463.65H103.89V463.53H104.86V463.42H105.83V463.30H106.81V463.18H107.78V463.07H108.75V462.95H109.72V462.83H110.69V462.72H111.67V462.60H112.64V462.48H113.61V462.37H114.58V462.25H115.56V462.13H116.53V462.02H117.50V461.90H118.47V461.77H119.44V461.64H120.42V461.52H121.39V461.39H122.36V461.26H123.33V461.13H124.31V461.01H125.28V460.88H126.25V460.75H127.22V460.62H128.19V460.49H129.17V460.37H130.14V460.24H131.11V460.11H132.08V459.98H133.06V459.86H134.03V459.73H135.00V459.60H135.97V459.48H136.94V459.37H137.92V459.25H138.89V459.13H139.86V459.02H140.83V458.90H141.81V458.78H142.78V458.67H143.75V458.55H144.72V458.43H145.69V458.32H146.67V458.20H147.64V458.08H148.61V457.97H149.58V457.85H150.56V457.73H151.53V457.62H152.50V457.50H153.47V457.42H154.44V457.34H155.42V457.27H156.39V457.19H157.36V457.11H158.33V457.03H159.31V456.96H160.28V456.88H161.25V456.80H162.22V456.72H163.19V456.64H164.17V456.57H165.14V456.49H166.11V456.41H167.08V456.33H168.06V456.26H169.03V456.18H170.00V456.10H170.98V456.03H171.96V455.97H172.93V455.90H173.91V455.83H174.89V455.77H175.87V455.70H176.84V455.63H177.82V455.57H178.80V455.50H179.78V455.43H180.76V455.37H181.73V455.30H182.71V455.23H183.69V455.17H184.67V455.10H185.64V455.03H186.62V454.97H187.60V454.90H188.57V454.83H189.53V454.77H190.50V454.70H191.47V454.63H192.43V454.57H193.40V454.50H194.37V454.43H195.33V454.37H196.30V454.30H197.27V454.23H198.23V454.17H199.20V454.10H200.17V454.03H201.13V453.97H202.10V453.90H203.07V453.83H204.03V453.77H205.00V453.70H205.98V453.64H206.96V453.58H207.93V453.52H208.91V453.46H209.89V453.39H210.87V453.33H211.84V453.27H212.82V453.21H213.80V453.15H214.78V453.09H215.76V453.03H216.73V452.97H217.71V452.91H218.69V452.84H219.67V452.78H220.64V452.72H221.62V452.66H222.60V452.60H223.55V452.57H224.49V452.53H225.44V452.50H226.39V452.47H227.33V452.43H228.28V452.40H229.23V452.37H230.17V452.33H231.12V452.30H232.07V452.27H233.01V452.23H233.96V452.20H234.91V452.17H235.85V452.13H236.80V452.10H237.78V452.06H238.76V452.01H239.74V451.97H240.73V451.93H241.71V451.88H242.69V451.84H243.67V451.79H244.65V451.75H245.63V451.71H246.61V451.66H247.59V451.62H248.57V451.57H249.56V451.53H250.54V451.49H251.52V451.44H252.50V451.40H253.49V451.38H254.48V451.36H255.47V451.33H256.47V451.31H257.46V451.29H258.45V451.27H259.44V451.25H260.43V451.23H261.42V451.20H262.41V451.18H263.40V451.16H264.40V451.14H265.39V451.12H266.38V451.10H267.37V451.07H268.36V451.05H269.35V451.03H270.34V451.01H271.33V450.99H272.33V450.97H273.32V450.94H274.31V450.92H275.30V450.90H276.18V450.67H277.05V450.45H277.93V450.23H278.80V450.00H279.80V449.99H280.79V449.98H281.79V449.97H282.78V449.96H283.78V449.95H284.77V449.95H285.77V449.94H286.76V449.93H287.76V449.92H288.75V449.91H289.75V449.90H290.75V449.89H291.74V449.88H292.74V449.87H293.73V449.86H294.73V449.85H295.72V449.85H296.72V449.84H297.71V449.83H298.71V449.82H299.70V449.81H300.70V449.80H301.70V449.79H302.69V449.78H303.69V449.77H304.68V449.76H305.68V449.75H306.67V449.75H307.67V449.74H308.66V449.73H309.66V449.72H310.65V449.71H311.65V449.70H312.65V449.69H313.64V449.68H314.64V449.67H315.63V449.66H316.63V449.65H317.62V449.65H318.62V449.64H319.61V449.63H320.61V449.62H321.60V449.61H322.60V449.60H323.45V449.40H324.30V449.20H325.15V449.00H326.00V448.80H326.99V448.80H327.98V448.80H328.97V448.80H329.97V448.80H330.96V448.80H331.95V448.80H332.94V448.80H333.93V448.80H334.92V448.80H335.91V448.80H336.90V448.80H337.90V448.80H338.89V448.80H339.88V448.80H340.87V448.80H341.86V448.80H342.85V448.80H343.84V448.80H344.83V448.80H345.83V448.80H346.82V448.80H347.81V448.80H348.80V448.80H349.79V448.80H350.78V448.80H351.77V448.80H352.77V448.80H353.76V448.80H354.75V448.80H355.74V448.80H356.73V448.80H357.72V448.80H358.71V448.80H359.70V448.80H360.70V448.80H361.69V448.80H362.68V448.80H363.67V448.80H364.66V448.80H365.65V448.80H366.64V448.80H367.63V448.80H368.63V448.80H369.62V448.80H370.61V448.80H371.60V448.80" fill="none" stroke="#A020F0" stroke-width="2.16" stroke-linecap="round" stroke-linejoin="round" stroke-dasharray="4.32 4.32 12.96 4.32"/>
</g>
<clipPath id="cD"><rect x="53.20" y="605.60" width="330.30" height="160.80"/></clipPath>
<path d="M53.20,605.60 L53.20,766.40 L383.50,766.40" fill="none" stroke="#222" stroke-width="1.20" stroke-linecap="square"/>
<path d="M65.70,766.40 L65.70,773.90 M108.31,766.40 L108.31,773.90 M150.93,766.40 L150.93,773.90 M193.55,766.40 L193.55,773.90 M236.16,766.40 L236.16,773.90 M278.78,766.40 L278.78,773.90 M321.39,766.40 L321.39,773.90 M364.00,766.40 L364.00,773.90 M53.20,760.60 L45.70,760.60 M53.20,730.86 L45.70,730.86 M53.20,701.12 L45.70,701.12 M53.20,671.38 L45.70,671.38 M53.20,641.64 L45.70,641.64 M53.20,611.90 L45.70,611.90 " fill="none" stroke="#222" stroke-width="1.20"/>
<text x="65.70" y="791.90" text-anchor="middle" font-size="11.64" font-weight="normal" fill="#262626" stroke="#262626" stroke-width="0.30">0.0</text>
<text x="108.31" y="791.90" text-anchor="middle" font-size="11.64" font-weight="normal" fill="#262626" stroke="#262626" stroke-width="0.30">0.5</text>
<text x="150.93" y="791.90" text-anchor="middle" font-size="11.64" font-weight="normal" fill="#262626" stroke="#262626" stroke-width="0.30">1.0</text>
<text x="193.55" y="791.90" text-anchor="middle" font-size="11.64" font-weight="normal" fill="#262626" stroke="#262626" stroke-width="0.30">1.5</text>
<text x="236.16" y="791.90" text-anchor="middle" font-size="11.64" font-weight="normal" fill="#262626" stroke="#262626" stroke-width="0.30">2.0</text>
<text x="278.78" y="791.90" text-anchor="middle" font-size="11.64" font-weight="normal" fill="#262626" stroke="#262626" stroke-width="0.30">2.5</text>
<text x="321.39" y="791.90" text-anchor="middle" font-size="11.64" font-weight="normal" fill="#262626" stroke="#262626" stroke-width="0.30">3.0</text>
<text x="364.00" y="791.90" text-anchor="middle" font-size="11.64" font-weight="normal" fill="#262626" stroke="#262626" stroke-width="0.30">3.5</text>
<text transform="translate(37.60,760.60) rotate(-90)" text-anchor="middle" font-size="11.64" font-weight="normal" fill="#262626" stroke="#262626" stroke-width="0.30">0.0</text>
<text transform="translate(37.60,730.86) rotate(-90)" text-anchor="middle" font-size="11.64" font-weight="normal" fill="#262626" stroke="#262626" stroke-width="0.30">0.1</text>
<text transform="translate(37.60,701.12) rotate(-90)" text-anchor="middle" font-size="11.64" font-weight="normal" fill="#262626" stroke="#262626" stroke-width="0.30">0.2</text>
<text transform="translate(37.60,671.38) rotate(-90)" text-anchor="middle" font-size="11.64" font-weight="normal" fill="#262626" stroke="#262626" stroke-width="0.30">0.3</text>
<text transform="translate(37.60,641.64) rotate(-90)" text-anchor="middle" font-size="11.64" font-weight="normal" fill="#262626" stroke="#262626" stroke-width="0.30">0.4</text>
<text transform="translate(37.60,611.90) rotate(-90)" text-anchor="middle" font-size="11.64" font-weight="normal" fill="#262626" stroke="#262626" stroke-width="0.30">0.5</text>
<text x="217.65" y="584.40" text-anchor="middle" font-size="14.35" font-weight="bold" fill="#111">Panel D: Legal supervision</text>
<text x="218.35" y="818.40" text-anchor="middle" font-size="11.64" font-weight="normal" fill="#3a3a3a" textLength="32.2" stroke="#3a3a3a" stroke-width="0.30">Years</text>
<text transform="translate(10.70,686.00) rotate(-90)" text-anchor="middle" font-size="11.64" font-weight="normal" fill="#3a3a3a" stroke="#3a3a3a" stroke-width="0.30">Cumulative incidence probability</text>
<g clip-path="url(#cD)">
<path d="M65.70,760.20H66.67V760.14H67.63V760.08H68.60V760.03H69.57V759.97H70.53V759.91H71.50V759.85H72.47V759.79H73.43V759.73H74.40V759.67H75.37V759.62H76.33V759.56H77.30V759.50H78.20V758.60H79.18V758.60H80.16V758.60H81.14V758.60H82.12V758.60H83.10V758.60H84.08V758.60H85.06V758.60H86.04V758.60H87.02V758.60H88.00V758.60H88.98V758.60H89.96V758.60H90.94V758.60H91.92V758.60H92.90V758.60H93.88V758.60H94.86V758.60H95.84V758.60H96.82V758.60H97.80V758.60H98.78V758.60H99.76V758.60H100.74V758.60H101.72V758.60H102.70V758.60H103.68V758.60H104.66V758.60H105.64V758.60H106.62V758.60H107.60V758.60H108.58V758.60H109.56V758.60H110.54V758.60H111.52V758.60H112.50V758.60H113.40V758.00H114.30V757.40H115.28V757.40H116.26V757.40H117.24V757.40H118.22V757.40H119.20V757.40H120.19V757.40H121.17V757.40H122.15V757.40H123.13V757.40H124.11V757.40H125.09V757.40H126.07V757.40H127.05V757.40H128.03V757.40H129.01V757.40H129.99V757.40H130.97V757.40H131.96V757.40H132.94V757.40H133.92V757.40H134.90V757.40H135.88V757.40H136.86V757.40H137.84V757.40H138.82V757.40H139.80V757.40H140.78V757.40H141.76V757.40H142.74V757.40H143.73V757.40H144.71V757.40H145.69V757.40H146.67V757.40H147.65V757.40H148.63V757.40H149.61V757.40H150.59V757.40H151.57V757.40H152.55V757.40H153.53V757.40H154.51V757.40H155.50V757.40H156.48V757.40H157.46V757.40H158.44V757.40H159.42V757.40H160.40V757.40H161.37V757.07H162.33V756.73H163.30V756.40H164.28V756.40H165.26V756.39H166.24V756.39H167.22V756.39H168.20V756.39H169.18V756.38H170.16V756.38H171.14V756.38H172.12V756.38H173.10V756.38H174.08V756.37H175.06V756.37H176.04V756.37H177.02V756.37H178.00V756.36H178.98V756.36H179.96V756.36H180.94V756.36H181.92V756.35H182.90V756.35H183.88V756.35H184.86V756.34H185.84V756.34H186.82V756.34H187.80V756.34H188.78V756.33H189.76V756.33H190.74V756.33H191.72V756.33H192.70V756.32H193.68V756.32H194.66V756.32H195.64V756.32H196.62V756.31H197.60V756.31H198.58V756.31H199.56V756.31H200.54V756.30H201.52V756.30H202.50V756.30H203.25V755.85H204.00V755.40H205.00V755.40H205.99V755.40H206.99V755.40H207.99V755.40H208.99V755.40H209.98V755.40H210.98V755.40H211.98V755.40H212.97V755.39H213.97V755.39H214.97V755.39H215.96V755.39H216.96V755.39H217.96V755.39H218.96V755.39H219.95V755.39H220.95V755.39H221.95V755.39H222.94V755.39H223.94V755.39H224.94V755.39H225.93V755.39H226.93V755.39H227.93V755.39H228.93V755.39H229.92V755.38H230.92V755.38H231.92V755.38H232.91V755.38H233.91V755.38H234.91V755.38H235.90V755.38H236.90V755.38H237.90V755.38H238.90V755.38H239.89V755.38H240.89V755.38H241.89V755.38H242.88V755.38H243.88V755.38H244.88V755.38H245.88V755.38H246.87V755.37H247.87V755.37H248.87V755.37H249.86V755.37H250.86V755.37H251.86V755.37H252.85V755.37H253.85V755.37H254.85V755.37H255.85V755.37H256.84V755.37H257.84V755.37H258.84V755.37H259.83V755.37H260.83V755.37H261.83V755.37H262.82V755.36H263.82V755.36H264.82V755.36H265.82V755.36H266.81V755.36H267.81V755.36H268.81V755.36H269.80V755.36H270.80V755.36H271.80V755.36H272.79V755.36H273.79V755.36H274.79V755.36H275.79V755.36H276.78V755.36H277.78V755.36H278.78V755.36H279.77V755.35H280.77V755.35H281.77V755.35H282.76V755.35H283.76V755.35H284.76V755.35H285.76V755.35H286.75V755.35H287.75V755.35H288.75V755.35H289.74V755.35H290.74V755.35H291.74V755.35H292.74V755.35H293.73V755.35H294.73V755.35H295.73V755.35H296.72V755.34H297.72V755.34H298.72V755.34H299.71V755.34H300.71V755.34H301.71V755.34H302.71V755.34H303.70V755.34H304.70V755.34H305.70V755.34H306.69V755.34H307.69V755.34H308.69V755.34H309.68V755.34H310.68V755.34H311.68V755.34H312.68V755.34H313.67V755.33H314.67V755.33H315.67V755.33H316.66V755.33H317.66V755.33H318.66V755.33H319.65V755.33H320.65V755.33H321.65V755.33H322.65V755.33H323.64V755.33H324.64V755.33H325.64V755.33H326.63V755.33H327.63V755.33H328.63V755.33H329.62V755.32H330.62V755.32H331.62V755.32H332.62V755.32H333.61V755.32H334.61V755.32H335.61V755.32H336.60V755.32H337.60V755.32H338.60V755.32H339.60V755.32H340.59V755.32H341.59V755.32H342.59V755.32H343.58V755.32H344.58V755.32H345.58V755.32H346.57V755.31H347.57V755.31H348.57V755.31H349.57V755.31H350.56V755.31H351.56V755.31H352.56V755.31H353.55V755.31H354.55V755.31H355.55V755.31H356.54V755.31H357.54V755.31H358.54V755.31H359.54V755.31H360.53V755.31H361.53V755.31H362.53V755.31H363.52V755.30H364.52V755.30H365.52V755.30H366.51V755.30H367.51V755.30H368.51V755.30H369.51V755.30H370.50V755.30H371.50V755.30" fill="none" stroke="#000000" stroke-width="2.16" stroke-linecap="round" stroke-linejoin="round"/>
<path d="M65.70,760.40H66.58V760.27H67.45V760.15H68.33V760.02H69.20V759.90H70.16V759.73H71.12V759.56H72.09V759.39H73.05V759.23H74.01V759.06H74.97V758.89H75.94V758.72H76.90V758.55H77.86V758.38H78.83V758.21H79.79V758.04H80.75V757.88H81.71V757.71H82.67V757.54H83.64V757.37H84.60V757.20H85.56V757.01H86.53V756.81H87.49V756.62H88.46V756.43H89.42V756.24H90.39V756.04H91.35V755.85H92.31V755.66H93.28V755.46H94.24V755.27H95.21V755.08H96.17V754.89H97.14V754.69H98.10V754.50H99.05V754.17H100.00V753.83H100.95V753.50H101.90V753.17H102.85V752.83H103.80V752.50H104.62V752.00H105.45V751.50H106.27V751.00H107.10V750.50H107.18V749.60H107.26V748.70H107.34V747.80H107.42V746.90H107.50V746.00H108.30V745.98H109.10V745.95H109.90V745.92H110.70V745.90H111.64V745.61H112.58V745.32H113.52V745.03H114.46V744.74H115.40V744.45H116.34V744.16H117.28V743.87H118.22V743.58H119.16V743.29H120.10V743.00H121.06V742.68H122.01V742.36H122.97V742.03H123.92V741.71H124.88V741.39H125.83V741.07H126.79V740.74H127.74V740.42H128.70V740.10H129.62V739.97H130.54V739.85H131.45V739.72H132.37V739.59H133.29V739.46H134.21V739.34H135.13V739.21H136.05V739.08H136.96V738.95H137.88V738.83H138.80V738.70H139.74V738.55H140.68V738.40H141.62V738.25H142.56V738.10H143.50V737.95H144.44V737.80H145.38V737.65H146.32V737.50H147.26V737.35H148.20V737.20H148.34V736.34H148.48V735.48H148.62V734.62H148.76V733.76H148.90V732.90H149.80V732.27H150.70V731.65H151.60V731.02H152.50V730.40H153.40V729.77H154.30V729.15H155.20V728.52H156.10V727.90H156.68V727.02H157.26V726.14H157.84V725.26H158.42V724.38H159.00V723.50H159.58V722.50H160.16V721.50H160.74V720.50H161.32V719.50H161.90V718.50H162.85V718.22H163.80V717.93H164.75V717.65H165.70V717.37H166.65V717.08H167.60V716.80H168.52V716.49H169.44V716.18H170.35V715.87H171.27V715.56H172.19V715.25H173.11V714.95H174.03V714.64H174.95V714.33H175.86V714.02H176.78V713.71H177.70V713.40H178.62V713.15H179.54V712.89H180.45V712.64H181.37V712.38H182.29V712.13H183.21V711.87H184.13V711.62H185.05V711.36H185.96V711.11H186.88V710.85H187.80V710.60H188.62V709.70H189.45V708.80H190.28V707.90H191.10V707.00H191.10V658.00H191.80V657.15H192.50V656.30H193.49V656.10H194.47V655.90H195.46V655.70H196.44V655.50H197.43V655.30H198.41V655.10H199.40V654.90H200.39V654.70H201.37V654.50H202.36V654.30H203.34V654.10H204.33V653.90H205.31V653.70H206.30V653.50H207.26V653.41H208.22V653.32H209.18V653.22H210.15V653.13H211.11V653.04H212.07V652.95H213.03V652.85H213.99V652.76H214.95V652.67H215.92V652.58H216.88V652.48H217.84V652.39H218.80V652.30H219.80V652.11H220.80V651.91H221.80V651.72H222.80V651.53H223.80V651.33H224.80V651.14H225.80V650.95H226.80V650.75H227.80V650.56H228.80V650.37H229.80V650.17H230.80V649.98H231.80V649.79H232.80V649.59H233.80V649.40H234.63V649.20H235.47V649.00H236.30V648.80H237.28V648.69H238.26V648.59H239.24V648.48H240.21V648.37H241.19V648.26H242.17V648.16H243.15V648.05H244.13V647.94H245.11V647.84H246.09V647.73H247.06V647.62H248.04V647.51H249.02V647.41H250.00V647.30H250.96V647.22H251.92V647.15H252.88V647.07H253.84V646.99H254.79V646.92H255.75V646.84H256.71V646.76H257.67V646.69H258.63V646.61H259.59V646.54H260.55V646.46H261.51V646.38H262.46V646.31H263.42V646.23H264.38V646.15H265.34V646.08H266.30V646.00H267.27V645.61H268.23V645.22H269.20V644.83H270.17V644.44H271.13V644.06H272.10V643.67H273.07V643.28H274.03V642.89H275.00V642.50H275.90V642.36H276.80V642.21H277.70V642.07H278.60V641.93H279.50V641.79H280.40V641.64H281.30V641.50H282.28V641.44H283.26V641.37H284.24V641.31H285.21V641.24H286.19V641.18H287.17V641.11H288.15V641.05H289.13V640.99H290.11V640.92H291.09V640.86H292.06V640.79H293.04V640.73H294.02V640.66H295.00V640.60H295.97V640.60H296.94V640.60H297.92V640.60H298.89V640.60H299.86V640.60H300.83V640.60H301.81V640.60H302.78V640.60H303.75V640.60H304.72V640.60H305.69V640.60H306.67V640.60H307.64V640.60H308.61V640.60H309.58V640.60H310.56V640.60H311.53V640.60H312.50V640.60H313.49V640.55H314.48V640.50H315.48V640.45H316.47V640.40H317.46V640.35H318.45V640.30H319.44V640.25H320.43V640.20H321.42V640.15H322.42V640.10H323.41V640.05H324.40V640.00H325.17V639.77H325.95V639.55H326.73V639.33H327.50V639.10H328.50V639.10H329.50V639.10H330.50V639.10H331.50V639.10H332.50V639.10H333.50V639.10H334.50V639.10H335.50V639.10H336.50V639.10H337.50V639.10H338.50V639.10H339.50V639.10H340.50V639.10H341.50V639.10H342.50V639.10H343.50V639.10H344.50V639.10H345.50V639.10H346.50V639.10H347.50V639.10H348.50V639.10H349.50V639.10H350.50V639.10H351.50V639.10H352.50V639.10H353.50V639.10H354.50V639.10H355.50V639.10H356.50V639.10H357.50V639.10H358.50V639.10H359.50V639.10H360.50V639.10H361.50V639.10H362.50V639.10H363.50V639.10H364.50V639.10H365.50V639.10H366.50V639.10H367.50V639.10H368.50V639.10H369.50V639.10H370.50V639.10H371.50V639.10" fill="none" stroke="#FFA500" stroke-width="2.16" stroke-linecap="round" stroke-linejoin="round" stroke-dasharray="8.64 8.64"/>
<path d="M65.70,760.40H66.31V759.50H66.92V758.60H67.54V757.70H68.15V756.80H68.76V755.90H69.38V755.00H69.99V754.10H70.60V753.20H71.60V752.40H72.60V751.60H73.60V750.80H74.60V750.00H75.52V749.48H76.43V748.97H77.35V748.45H78.27V747.93H79.18V747.42H80.10V746.90H81.08V746.36H82.06V745.82H83.04V745.28H84.02V744.74H85.00V744.20H85.98V743.73H86.97V743.27H87.95V742.80H88.93V742.33H89.92V741.87H90.90V741.40H91.80V741.01H92.70V740.63H93.60V740.24H94.50V739.86H95.40V739.47H96.30V739.09H97.20V738.70H98.10V738.31H99.00V737.93H99.90V737.54H100.80V737.16H101.70V736.77H102.60V736.39H103.50V736.00H104.40V735.81H105.30V735.63H106.20V735.44H107.10V735.26H108.00V735.07H108.90V734.89H109.80V734.70H110.71V734.37H111.63V734.04H112.54V733.71H113.46V733.39H114.37V733.06H115.29V732.73H116.20V732.40H117.17V732.27H118.14V732.14H119.11V732.01H120.09V731.89H121.06V731.76H122.03V731.63H123.00V731.50H123.96V731.30H124.91V731.10H125.87V730.90H126.82V730.70H127.78V730.50H128.73V730.30H129.69V730.10H130.64V729.90H131.60V729.70H132.57V729.66H133.53V729.61H134.50V729.57H135.47V729.52H136.43V729.48H137.40V729.43H138.37V729.39H139.33V729.34H140.30V729.30H141.26V729.22H142.21V729.14H143.17V729.07H144.12V728.99H145.08V728.91H146.03V728.83H146.99V728.76H147.94V728.68H148.90V728.60H149.80V728.45H150.70V728.30H151.60V728.15H152.50V728.00H153.40V727.85H154.30V727.70H155.20V727.55H156.10V727.40H157.00V727.27H157.90V727.15H158.80V727.02H159.70V726.90H160.60V726.77H161.50V726.65H162.40V726.52H163.30V726.40H164.29V726.35H165.28V726.30H166.26V726.25H167.25V726.20H168.24V726.15H169.22V726.10H170.21V726.05H171.20V726.00H172.20V725.88H173.20V725.75H174.20V725.62H175.20V725.50H176.20V725.38H177.20V725.25H178.20V725.12H179.20V725.00H180.16V724.93H181.11V724.87H182.07V724.80H183.02V724.73H183.98V724.67H184.93V724.60H185.89V724.53H186.84V724.47H187.80V724.40H188.79V724.40H189.78V724.40H190.77V724.40H191.76V724.40H192.75V724.40H193.74V724.40H194.73V724.40H195.72V724.40H196.71V724.40H197.70V724.40H198.69V724.40H199.68V724.40H200.67V724.40H201.66V724.40H202.65V724.40H203.64V724.40H204.63V724.40H205.62V724.40H206.61V724.40H207.59V724.40H208.58V724.40H209.57V724.40H210.56V724.40H211.55V724.40H212.54V724.40H213.53V724.40H214.52V724.40H215.51V724.40H216.50V724.40H217.49V724.40H218.48V724.40H219.47V724.40H220.46V724.40H221.45V724.40H222.44V724.40H223.43V724.40H224.42V724.40H225.41V724.40H226.40V724.40H227.39V724.40H228.38V724.40H229.37V724.40H230.36V724.40H231.35V724.40H232.34V724.40H233.33V724.40H234.32V724.40H235.31V724.40H236.30V724.40H237.29V724.40H238.28V724.40H239.27V724.40H240.26V724.40H241.25V724.40H242.24V724.40H243.23V724.40H244.22V724.40H245.21V724.40H246.19V724.40H247.18V724.40H248.17V724.40H249.16V724.40H250.15V724.40H251.14V724.40H252.13V724.40H253.12V724.40H254.11V724.40H255.10V724.40H256.09V724.40H257.08V724.40H258.07V724.40H259.06V724.40H260.05V724.40H261.04V724.40H262.03V724.40H263.02V724.40H264.01V724.40H265.00V724.40H266.00V724.40H267.00V724.40H268.00V724.40H269.00V724.40H270.00V724.40H271.00V724.40H272.00V724.40H273.00V724.40H274.00V724.40H275.00V724.40H276.00V724.40H277.00V724.40H278.00V724.40H279.00V724.40H280.00V724.40H281.00V724.40H282.00V724.40H283.00V724.40H284.00V724.40H285.00V724.40H286.00V724.40H287.00V724.40H288.00V724.40H289.00V724.40H290.00V724.40H291.00V724.40H292.00V724.40H293.00V724.40H294.00V724.40H295.00V724.40H296.00V724.40H297.00V724.40H298.00V724.40H299.00V724.40H300.00V724.40H301.00V724.40H302.00V724.40H303.00V724.40H304.00V724.40H305.00V724.40H306.00V724.40H307.00V724.40H308.00V724.40H309.00V724.40H310.00V724.40H311.00V724.40H312.00V724.40H313.00V724.40H314.00V724.40H315.00V724.40H316.00V724.40H317.00V724.40H318.00V724.40H319.00V724.40H320.00V724.40H321.00V724.40H322.00V724.40H323.00V724.40H324.00V724.40H325.00V724.40H326.00V724.40H327.00V724.40H328.00V724.40H329.00V724.40H330.00V724.40H331.00V724.40H332.00V724.40H333.00V724.40H334.00V724.40H335.00V724.40H336.00V724.40H337.00V724.40H338.00V724.40H339.00V724.40H340.00V724.40H341.00V724.37H342.00V724.35H343.00V724.32H344.00V724.29H345.00V724.27H346.00V724.24H347.00V724.21H348.00V724.19H349.00V724.16H350.00V724.13H351.00V724.11H352.00V724.08H353.00V724.05H354.00V724.03H355.00V724.00H355.96V723.92H356.92V723.85H357.88V723.77H358.85V723.69H359.81V723.62H360.77V723.54H361.73V723.46H362.69V723.38H363.65V723.31H364.62V723.23H365.58V723.15H366.54V723.08H367.50V723.00" fill="none" stroke="#0000FF" stroke-width="2.16" stroke-linecap="round" stroke-linejoin="round" stroke-dasharray="2.16 6.48"/>
<path d="M65.70,760.40H66.58V759.72H67.47V759.03H68.35V758.35H69.23V757.67H70.12V756.98H71.00V756.30H71.97V755.60H72.94V754.90H73.91V754.20H74.89V753.50H75.86V752.80H76.83V752.10H77.80V751.40H78.74V751.15H79.68V750.91H80.62V750.66H81.55V750.42H82.49V750.17H83.43V749.92H84.37V749.68H85.31V749.43H86.25V749.18H87.18V748.94H88.12V748.69H89.06V748.45H90.00V748.20H91.00V747.80H92.00V747.40H93.00V747.00H94.00V746.60H95.00V746.20H96.00V745.80H97.00V745.40H98.00V745.00H99.00V744.60H100.00V744.40H101.00V744.20H102.00V744.00H103.00V743.80H104.00V743.60H105.00V743.40H106.00V743.20H107.00V743.00H108.00V742.80H108.99V742.72H109.98V742.64H110.97V742.55H111.96V742.47H112.95V742.39H113.95V742.31H114.94V742.23H115.93V742.15H116.92V742.06H117.91V741.98H118.90V741.90H119.88V741.65H120.86V741.40H121.84V741.15H122.82V740.90H123.80V740.65H124.78V740.40H125.76V740.15H126.74V739.90H127.72V739.65H128.70V739.40H129.66V739.30H130.62V739.19H131.59V739.09H132.55V738.98H133.51V738.88H134.47V738.77H135.43V738.67H136.40V738.56H137.36V738.46H138.32V738.35H139.28V738.25H140.24V738.14H141.20V738.04H142.17V737.93H143.13V737.83H144.09V737.72H145.05V737.62H146.01V737.51H146.98V737.41H147.94V737.30H148.90V737.20H149.88V737.17H150.86V737.14H151.85V737.10H152.83V737.07H153.81V737.04H154.79V737.01H155.77V736.98H156.75V736.95H157.74V736.91H158.72V736.88H159.70V736.85H160.68V736.82H161.66V736.79H162.65V736.75H163.63V736.72H164.61V736.69H165.59V736.66H166.57V736.63H167.55V736.60H168.54V736.56H169.52V736.53H170.50V736.50H171.46V736.45H172.42V736.41H173.38V736.36H174.34V736.31H175.30V736.27H176.26V736.22H177.22V736.17H178.18V736.13H179.14V736.08H180.10V736.03H181.06V735.99H182.02V735.94H182.98V735.89H183.94V735.85H184.90V735.80H185.87V735.75H186.83V735.70H187.80V735.65H188.77V735.60H189.73V735.55H190.70V735.50H191.67V735.45H192.63V735.40H193.60V735.35H194.57V735.30H195.53V735.25H196.50V735.20H197.50V735.20H198.50V735.20H199.50V735.20H200.50V735.20H201.50V735.19H202.50V735.19H203.50V735.19H204.50V735.19H205.50V735.19H206.50V735.19H207.50V735.19H208.50V735.19H209.50V735.18H210.50V735.18H211.50V735.18H212.50V735.18H213.50V735.18H214.50V735.18H215.50V735.18H216.50V735.18H217.50V735.18H218.50V735.17H219.50V735.17H220.50V735.17H221.50V735.17H222.50V735.17H223.50V735.17H224.50V735.17H225.50V735.17H226.50V735.16H227.50V735.16H228.50V735.16H229.50V735.16H230.50V735.16H231.50V735.16H232.50V735.16H233.50V735.16H234.50V735.16H235.50V735.15H236.50V735.15H237.50V735.15H238.50V735.15H239.50V735.15H240.50V735.15H241.50V735.15H242.50V735.15H243.50V735.15H244.50V735.14H245.50V735.14H246.50V735.14H247.50V735.14H248.50V735.14H249.50V735.14H250.50V735.14H251.50V735.14H252.50V735.13H253.50V735.13H254.50V735.13H255.50V735.13H256.50V735.13H257.50V735.13H258.50V735.13H259.50V735.13H260.50V735.13H261.50V735.12H262.50V735.12H263.50V735.12H264.50V735.12H265.50V735.12H266.50V735.12H267.50V735.12H268.50V735.12H269.50V735.11H270.50V735.11H271.50V735.11H272.50V735.11H273.50V735.11H274.50V735.11H275.50V735.11H276.50V735.11H277.50V735.11H278.50V735.10H279.50V735.10H280.50V735.10H281.50V735.10H282.50V735.10H283.50V735.10H284.50V735.10H285.50V735.10H286.50V735.09H287.50V735.09H288.50V735.09H289.50V735.09H290.50V735.09H291.50V735.09H292.50V735.09H293.50V735.09H294.50V735.09H295.50V735.08H296.50V735.08H297.50V735.08H298.50V735.08H299.50V735.08H300.50V735.08H301.50V735.08H302.50V735.08H303.50V735.07H304.50V735.07H305.50V735.07H306.50V735.07H307.50V735.07H308.50V735.07H309.50V735.07H310.50V735.07H311.50V735.07H312.50V735.06H313.50V735.06H314.50V735.06H315.50V735.06H316.50V735.06H317.50V735.06H318.50V735.06H319.50V735.06H320.50V735.05H321.50V735.05H322.50V735.05H323.50V735.05H324.50V735.05H325.50V735.05H326.50V735.05H327.50V735.05H328.50V735.05H329.50V735.04H330.50V735.04H331.50V735.04H332.50V735.04H333.50V735.04H334.50V735.04H335.50V735.04H336.50V735.04H337.50V735.04H338.50V735.03H339.50V735.03H340.50V735.03H341.50V735.03H342.50V735.03H343.50V735.03H344.50V735.03H345.50V735.03H346.50V735.02H347.50V735.02H348.50V735.02H349.50V735.02H350.50V735.02H351.50V735.02H352.50V735.02H353.50V735.02H354.50V735.02H355.50V735.01H356.50V735.01H357.50V735.01H358.50V735.01H359.50V735.01H360.50V735.01H361.50V735.01H362.50V735.01H363.50V735.00H364.50V735.00H365.50V735.00H366.50V735.00H367.50V735.00" fill="none" stroke="#FF0000" stroke-width="2.16" stroke-linecap="round" stroke-linejoin="round" stroke-dasharray="2.16 6.48 8.64 6.48"/>
<path d="M65.60,760.40H66.10V759.50H66.60V758.60H67.10V757.70H67.60V756.80H68.10V755.90H68.60V755.00H69.10V754.10H69.60V753.20H70.10V752.30H70.59V751.31H71.08V750.32H71.57V749.33H72.06V748.34H72.55V747.35H73.05V746.35H73.54V745.36H74.03V744.37H74.52V743.38H75.01V742.39H75.50V741.40H76.03V740.42H76.57V739.45H77.10V738.48H77.63V737.50H78.17V736.52H78.70V735.55H79.23V734.58H79.77V733.60H80.30V732.62H80.83V731.65H81.37V730.68H81.90V729.70H82.35V728.80H82.80V727.90H83.25V727.00H83.70V726.10H84.15V725.20H84.60V724.30H85.05V723.40H85.50V722.50H86.25V721.60H87.00V720.70H87.75V719.80H88.50V718.90H89.25V718.00H90.00V717.10H90.75V716.20H91.50V715.30H92.25V714.40H93.00V713.50H93.75V712.60H94.50V711.70H95.17V710.79H95.85V709.88H96.53V708.96H97.20V708.05H97.88V707.14H98.55V706.23H99.23V705.31H99.90V704.40H100.65V703.50H101.40V702.60H102.15V701.70H102.90V700.80H103.65V699.90H104.40V699.00H105.33V698.28H106.27V697.57H107.20V696.85H108.13V696.13H109.07V695.42H110.00V694.70H110.96V693.98H111.91V693.26H112.87V692.53H113.82V691.81H114.78V691.09H115.73V690.37H116.69V689.64H117.64V688.92H118.60V688.20H119.57V687.48H120.53V686.76H121.50V686.03H122.47V685.31H123.43V684.59H124.40V683.87H125.37V683.14H126.33V682.42H127.30V681.70H128.26V681.07H129.21V680.43H130.17V679.80H131.12V679.17H132.08V678.53H133.03V677.90H133.99V677.27H134.94V676.63H135.90V676.00H136.82V675.54H137.74V675.07H138.65V674.61H139.57V674.15H140.49V673.68H141.41V673.22H142.33V672.75H143.25V672.29H144.16V671.83H145.08V671.36H146.00V670.90H146.92V670.51H147.84V670.12H148.75V669.73H149.67V669.34H150.59V668.95H151.51V668.55H152.43V668.16H153.35V667.77H154.26V667.38H155.18V666.99H156.10V666.60H157.02V666.27H157.94V665.95H158.85V665.62H159.77V665.29H160.69V664.96H161.61V664.64H162.53V664.31H163.45V663.98H164.36V663.65H165.28V663.33H166.20V663.00H167.12V662.74H168.04V662.47H168.95V662.21H169.87V661.95H170.79V661.68H171.71V661.42H172.63V661.15H173.55V660.89H174.46V660.63H175.38V660.36H176.30V660.10H177.22V659.91H178.14V659.72H179.05V659.53H179.97V659.34H180.89V659.15H181.81V658.95H182.73V658.76H183.65V658.57H184.56V658.38H185.48V658.19H186.40V658.00H187.27V657.79H188.14V657.57H189.01V657.36H189.89V657.14H190.76V656.93H191.63V656.71H192.50V656.50H193.44V656.38H194.38V656.25H195.32V656.12H196.27V656.00H197.21V655.88H198.15V655.75H199.09V655.62H200.03V655.50H200.98V655.38H201.92V655.25H202.86V655.12H203.80V655.00H204.76V654.92H205.72V654.85H206.68V654.77H207.65V654.69H208.61V654.62H209.57V654.54H210.53V654.46H211.49V654.38H212.45V654.31H213.42V654.23H214.38V654.15H215.34V654.08H216.30V654.00H217.30V653.95H218.30V653.90H219.30V653.85H220.30V653.80H221.30V653.75H222.30V653.70H223.30V653.65H224.30V653.60H225.30V653.55H226.30V653.50H227.19V653.36H228.07V653.21H228.96V653.07H229.84V652.93H230.73V652.79H231.61V652.64H232.50V652.50H233.47V652.49H234.45V652.49H235.42V652.48H236.40V652.47H237.37V652.46H238.34V652.46H239.32V652.45H240.29V652.44H241.27V652.43H242.24V652.43H243.21V652.42H244.19V652.41H245.16V652.40H246.14V652.40H247.11V652.39H248.09V652.38H249.06V652.37H250.03V652.37H251.01V652.36H251.98V652.35H252.96V652.34H253.93V652.34H254.90V652.33H255.88V652.32H256.85V652.31H257.83V652.31H258.80V652.30H259.74V652.20H260.68V652.10H261.61V652.00H262.55V651.90H263.49V651.80H264.43V651.70H265.36V651.60H266.30V651.50H267.26V651.43H268.22V651.36H269.18V651.29H270.15V651.22H271.11V651.15H272.07V651.08H273.03V651.02H273.99V650.95H274.95V650.88H275.92V650.81H276.88V650.74H277.84V650.67H278.80V650.60H279.69V650.54H280.57V650.49H281.46V650.43H282.34V650.37H283.23V650.31H284.11V650.26H285.00V650.20H286.00V650.20H287.00V650.20H288.00V650.19H289.00V650.19H289.99V650.19H290.99V650.19H291.99V650.18H292.99V650.18H293.99V650.18H294.99V650.18H295.99V650.17H296.99V650.17H297.99V650.17H298.98V650.17H299.98V650.17H300.98V650.16H301.98V650.16H302.98V650.16H303.98V650.16H304.98V650.15H305.98V650.15H306.97V650.15H307.97V650.15H308.97V650.14H309.97V650.14H310.97V650.14H311.97V650.14H312.97V650.14H313.97V650.13H314.97V650.13H315.96V650.13H316.96V650.13H317.96V650.12H318.96V650.12H319.96V650.12H320.96V650.12H321.96V650.11H322.96V650.11H323.96V650.11H324.95V650.11H325.95V650.11H326.95V650.10H327.95V650.10H328.95V650.10H329.95V650.10H330.95V650.09H331.95V650.09H332.94V650.09H333.94V650.09H334.94V650.09H335.94V650.08H336.94V650.08H337.94V650.08H338.94V650.08H339.94V650.07H340.94V650.07H341.93V650.07H342.93V650.07H343.93V650.06H344.93V650.06H345.93V650.06H346.93V650.06H347.93V650.06H348.93V650.05H349.93V650.05H350.92V650.05H351.92V650.05H352.92V650.04H353.92V650.04H354.92V650.04H355.92V650.04H356.92V650.03H357.92V650.03H358.91V650.03H359.91V650.03H360.91V650.03H361.91V650.02H362.91V650.02H363.91V650.02H364.91V650.02H365.91V650.01H366.91V650.01H367.90V650.01H368.90V650.01H369.90V650.00H370.90V650.00H371.90V650.00" fill="none" stroke="#00FF00" stroke-width="2.16" stroke-linecap="round" stroke-linejoin="round" stroke-dasharray="15.12 6.48"/>
</g>
<clipPath id="cE"><rect x="468.10" y="605.50" width="330.60" height="161.00"/></clipPath>
<path d="M468.10,605.50 L468.10,766.50 L798.70,766.50" fill="none" stroke="#222" stroke-width="1.20" stroke-linecap="square"/>
<path d="M480.00,766.50 L480.00,774.00 M545.06,766.50 L545.06,774.00 M610.12,766.50 L610.12,774.00 M675.18,766.50 L675.18,774.00 M740.24,766.50 L740.24,774.00 M468.10,760.50 L460.60,760.50 M468.10,730.76 L460.60,730.76 M468.10,701.02 L460.60,701.02 M468.10,671.28 L460.60,671.28 M468.10,641.54 L460.60,641.54 M468.10,611.80 L460.60,611.80 " fill="none" stroke="#222" stroke-width="1.20"/>
<text x="480.00" y="792.00" text-anchor="middle" font-size="11.64" font-weight="normal" fill="#262626" stroke="#262626" stroke-width="0.30">0</text>
<text x="545.06" y="792.00" text-anchor="middle" font-size="11.64" font-weight="normal" fill="#262626" stroke="#262626" stroke-width="0.30">1</text>
<text x="610.12" y="792.00" text-anchor="middle" font-size="11.64" font-weight="normal" fill="#262626" stroke="#262626" stroke-width="0.30">2</text>
<text x="675.18" y="792.00" text-anchor="middle" font-size="11.64" font-weight="normal" fill="#262626" stroke="#262626" stroke-width="0.30">3</text>
<text x="740.24" y="792.00" text-anchor="middle" font-size="11.64" font-weight="normal" fill="#262626" stroke="#262626" stroke-width="0.30">4</text>
<text transform="translate(452.50,760.50) rotate(-90)" text-anchor="middle" font-size="11.64" font-weight="normal" fill="#262626" stroke="#262626" stroke-width="0.30">0.0</text>
<text transform="translate(452.50,730.76) rotate(-90)" text-anchor="middle" font-size="11.64" font-weight="normal" fill="#262626" stroke="#262626" stroke-width="0.30">0.2</text>
<text transform="translate(452.50,701.02) rotate(-90)" text-anchor="middle" font-size="11.64" font-weight="normal" fill="#262626" stroke="#262626" stroke-width="0.30">0.4</text>
<text transform="translate(452.50,671.28) rotate(-90)" text-anchor="middle" font-size="11.64" font-weight="normal" fill="#262626" stroke="#262626" stroke-width="0.30">0.6</text>
<text transform="translate(452.50,641.54) rotate(-90)" text-anchor="middle" font-size="11.64" font-weight="normal" fill="#262626" stroke="#262626" stroke-width="0.30">0.8</text>
<text transform="translate(452.50,611.80) rotate(-90)" text-anchor="middle" font-size="11.64" font-weight="normal" fill="#262626" stroke="#262626" stroke-width="0.30">1.0</text>
<text x="632.70" y="584.30" text-anchor="middle" font-size="14.35" font-weight="bold" fill="#111">Panel E: Incarceration</text>
<text x="633.40" y="818.50" text-anchor="middle" font-size="11.64" font-weight="normal" fill="#3a3a3a" textLength="32.2" stroke="#3a3a3a" stroke-width="0.30">Years</text>
<text transform="translate(425.60,686.00) rotate(-90)" text-anchor="middle" font-size="11.64" font-weight="normal" fill="#3a3a3a" stroke="#3a3a3a" stroke-width="0.30">Cumulative incidence probability</text>
<g clip-path="url(#cE)">
<path d="M480.00,760.00H481.00V760.00H482.00V760.00H482.99V760.00H483.99V760.00H484.99V760.00H485.99V759.99H486.98V759.99H487.98V759.99H488.98V759.99H489.98V759.99H490.97V759.99H491.97V759.99H492.97V759.99H493.97V759.99H494.97V759.99H495.96V759.98H496.96V759.98H497.96V759.98H498.96V759.98H499.95V759.98H500.95V759.98H501.95V759.98H502.95V759.98H503.95V759.98H504.94V759.98H505.94V759.97H506.94V759.97H507.94V759.97H508.93V759.97H509.93V759.97H510.93V759.97H511.93V759.97H512.92V759.97H513.92V759.97H514.92V759.97H515.92V759.96H516.92V759.96H517.91V759.96H518.91V759.96H519.91V759.96H520.91V759.96H521.90V759.96H522.90V759.96H523.90V759.96H524.90V759.96H525.90V759.96H526.89V759.95H527.89V759.95H528.89V759.95H529.89V759.95H530.88V759.95H531.88V759.95H532.88V759.95H533.88V759.95H534.87V759.95H535.87V759.95H536.87V759.94H537.87V759.94H538.87V759.94H539.86V759.94H540.86V759.94H541.86V759.94H542.86V759.94H543.85V759.94H544.85V759.94H545.85V759.94H546.85V759.93H547.84V759.93H548.84V759.93H549.84V759.93H550.84V759.93H551.84V759.93H552.83V759.93H553.83V759.93H554.83V759.93H555.83V759.93H556.82V759.92H557.82V759.92H558.82V759.92H559.82V759.92H560.82V759.92H561.81V759.92H562.81V759.92H563.81V759.92H564.81V759.92H565.80V759.92H566.80V759.91H567.80V759.91H568.80V759.91H569.79V759.91H570.79V759.91H571.79V759.91H572.79V759.91H573.79V759.91H574.78V759.91H575.78V759.91H576.78V759.91H577.78V759.90H578.77V759.90H579.77V759.90H580.77V759.90H581.77V759.90H582.77V759.90H583.76V759.90H584.76V759.90H585.76V759.90H586.76V759.90H587.75V759.89H588.75V759.89H589.75V759.89H590.75V759.89H591.74V759.89H592.74V759.89H593.74V759.89H594.74V759.89H595.74V759.89H596.73V759.89H597.73V759.88H598.73V759.88H599.73V759.88H600.72V759.88H601.72V759.88H602.72V759.88H603.72V759.88H604.71V759.88H605.71V759.88H606.71V759.88H607.71V759.87H608.71V759.87H609.70V759.87H610.70V759.87H611.70V759.87H612.70V759.87H613.69V759.87H614.69V759.87H615.69V759.87H616.69V759.87H617.69V759.87H618.68V759.86H619.68V759.86H620.68V759.86H621.68V759.86H622.67V759.86H623.67V759.86H624.67V759.86H625.67V759.86H626.66V759.86H627.66V759.86H628.66V759.85H629.66V759.85H630.66V759.85H631.65V759.85H632.65V759.85H633.65V759.85H634.65V759.85H635.64V759.85H636.64V759.85H637.64V759.85H638.64V759.84H639.64V759.84H640.63V759.84H641.63V759.84H642.63V759.84H643.63V759.84H644.62V759.84H645.62V759.84H646.62V759.84H647.62V759.84H648.61V759.83H649.61V759.83H650.61V759.83H651.61V759.83H652.61V759.83H653.60V759.83H654.60V759.83H655.60V759.83H656.60V759.83H657.59V759.83H658.59V759.83H659.59V759.82H660.59V759.82H661.59V759.82H662.58V759.82H663.58V759.82H664.58V759.82H665.58V759.82H666.57V759.82H667.57V759.82H668.57V759.82H669.57V759.81H670.56V759.81H671.56V759.81H672.56V759.81H673.56V759.81H674.56V759.81H675.55V759.81H676.55V759.81H677.55V759.81H678.55V759.81H679.54V759.80H680.54V759.80H681.54V759.80H682.54V759.80H683.53V759.80H684.53V759.80H685.53V759.80H686.53V759.80H687.53V759.80H688.52V759.80H689.52V759.79H690.52V759.79H691.52V759.79H692.51V759.79H693.51V759.79H694.51V759.79H695.51V759.79H696.51V759.79H697.50V759.79H698.50V759.79H699.50V759.79H700.50V759.78H701.49V759.78H702.49V759.78H703.49V759.78H704.49V759.78H705.48V759.78H706.48V759.78H707.48V759.78H708.48V759.78H709.48V759.78H710.47V759.77H711.47V759.77H712.47V759.77H713.47V759.77H714.46V759.77H715.46V759.77H716.46V759.77H717.46V759.77H718.46V759.77H719.45V759.77H720.45V759.76H721.45V759.76H722.45V759.76H723.44V759.76H724.44V759.76H725.44V759.76H726.44V759.76H727.43V759.76H728.43V759.76H729.43V759.76H730.43V759.75H731.43V759.75H732.42V759.75H733.42V759.75H734.42V759.75H735.42V759.75H736.41V759.75H737.41V759.75H738.41V759.75H739.41V759.75H740.40V759.74H741.40V759.74H742.40V759.74H743.40V759.74H744.40V759.74H745.39V759.74H746.39V759.74H747.39V759.74H748.39V759.74H749.38V759.74H750.38V759.74H751.38V759.73H752.38V759.73H753.38V759.73H754.37V759.73H755.37V759.73H756.37V759.73H757.37V759.73H758.36V759.73H759.36V759.73H760.36V759.73H761.36V759.72H762.35V759.72H763.35V759.72H764.35V759.72H765.35V759.72H766.35V759.72H767.34V759.72H768.34V759.72H769.34V759.72H770.34V759.72H771.33V759.71H772.33V759.71H773.33V759.71H774.33V759.71H775.33V759.71H776.32V759.71H777.32V759.71H778.32V759.71H779.32V759.71H780.31V759.71H781.31V759.70H782.31V759.70H783.31V759.70H784.30V759.70H785.30V759.70H786.30V759.70" fill="none" stroke="#000000" stroke-width="2.16" stroke-linecap="round" stroke-linejoin="round"/>
<path d="M480.30,760.30H480.33V759.42H480.37V758.53H480.40V757.65H480.43V756.77H480.47V755.88H480.50V755.00H481.37V754.24H482.24V753.49H483.11V752.73H483.99V751.97H484.86V751.21H485.73V750.46H486.60V749.70H487.55V749.45H488.50V749.20H489.45V748.95H490.40V748.70H491.35V748.45H492.30V748.20H493.25V747.95H494.20V747.70H495.13V747.62H496.06V747.55H496.99V747.47H497.92V747.39H498.85V747.32H499.78V747.24H500.72V747.16H501.65V747.08H502.58V747.01H503.51V746.93H504.44V746.85H505.37V746.78H506.30V746.70H507.30V746.70H508.29V746.70H509.29V746.70H510.29V746.70H511.29V746.70H512.28V746.70H513.28V746.70H514.28V746.70H515.28V746.70H516.27V746.70H517.27V746.70H518.27V746.70H519.27V746.70H520.26V746.70H521.26V746.70H522.26V746.70H523.26V746.70H524.25V746.70H525.25V746.70H526.25V746.70H527.24V746.70H528.24V746.70H529.24V746.70H530.24V746.70H531.23V746.70H532.23V746.70H533.23V746.70H534.23V746.70H535.22V746.70H536.22V746.70H537.22V746.70H538.22V746.70H539.21V746.70H540.21V746.70H541.21V746.70H542.21V746.70H543.20V746.70H544.20V746.70H545.20V746.70H546.19V746.70H547.19V746.70H548.19V746.70H549.19V746.70H550.18V746.70H551.18V746.70H552.18V746.70H553.18V746.70H554.17V746.70H555.17V746.70H556.17V746.70H557.17V746.70H558.16V746.70H559.16V746.70H560.16V746.70H561.16V746.70H562.15V746.70H563.15V746.70H564.15V746.70H565.14V746.70H566.14V746.70H567.14V746.70H568.14V746.70H569.13V746.70H570.13V746.70H571.13V746.70H572.13V746.70H573.12V746.70H574.12V746.70H575.12V746.70H576.12V746.70H577.11V746.70H578.11V746.70H579.11V746.70H580.11V746.70H581.10V746.70H582.10V746.70H583.10V746.70H584.09V746.70H585.09V746.70H586.09V746.70H587.09V746.70H588.08V746.70H589.08V746.70H590.08V746.70H591.08V746.70H592.07V746.70H593.07V746.70H594.07V746.70H595.07V746.70H596.06V746.70H597.06V746.70H598.06V746.70H599.06V746.70H600.05V746.70H601.05V746.70H602.05V746.70H603.04V746.70H604.04V746.70H605.04V746.70H606.04V746.70H607.03V746.70H608.03V746.70H609.03V746.70H610.03V746.70H611.02V746.70H612.02V746.70H613.02V746.70H614.02V746.70H615.01V746.70H616.01V746.70H617.01V746.70H618.01V746.70H619.00V746.70H620.00V746.70H621.00V746.70H621.99V746.70H622.99V746.70H623.98V746.70H624.98V746.70H625.97V746.70H626.97V746.70H627.97V746.70H628.96V746.71H629.96V746.71H630.95V746.71H631.95V746.71H632.95V746.71H633.94V746.71H634.94V746.71H635.93V746.71H636.93V746.71H637.92V746.71H638.92V746.71H639.92V746.71H640.91V746.71H641.91V746.71H642.90V746.71H643.90V746.71H644.90V746.71H645.89V746.72H646.89V746.72H647.88V746.72H648.88V746.72H649.87V746.72H650.87V746.72H651.87V746.72H652.86V746.72H653.86V746.72H654.85V746.72H655.85V746.72H656.84V746.72H657.84V746.72H658.84V746.72H659.83V746.72H660.83V746.72H661.82V746.73H662.82V746.73H663.82V746.73H664.81V746.73H665.81V746.73H666.80V746.73H667.80V746.73H668.79V746.73H669.79V746.73H670.79V746.73H671.78V746.73H672.78V746.73H673.77V746.73H674.77V746.73H675.77V746.73H676.76V746.73H677.76V746.73H678.75V746.74H679.75V746.74H680.74V746.74H681.74V746.74H682.74V746.74H683.73V746.74H684.73V746.74H685.72V746.74H686.72V746.74H687.71V746.74H688.71V746.74H689.71V746.74H690.70V746.74H691.70V746.74H692.69V746.74H693.69V746.74H694.69V746.74H695.68V746.75H696.68V746.75H697.67V746.75H698.67V746.75H699.66V746.75H700.66V746.75H701.66V746.75H702.65V746.75H703.65V746.75H704.64V746.75H705.64V746.75H706.64V746.75H707.63V746.75H708.63V746.75H709.62V746.75H710.62V746.75H711.61V746.76H712.61V746.76H713.61V746.76H714.60V746.76H715.60V746.76H716.59V746.76H717.59V746.76H718.59V746.76H719.58V746.76H720.58V746.76H721.57V746.76H722.57V746.76H723.56V746.76H724.56V746.76H725.56V746.76H726.55V746.76H727.55V746.76H728.54V746.77H729.54V746.77H730.53V746.77H731.53V746.77H732.53V746.77H733.52V746.77H734.52V746.77H735.51V746.77H736.51V746.77H737.51V746.77H738.50V746.77H739.50V746.77H740.49V746.77H741.49V746.77H742.48V746.77H743.48V746.77H744.48V746.77H745.47V746.78H746.47V746.78H747.46V746.78H748.46V746.78H749.46V746.78H750.45V746.78H751.45V746.78H752.44V746.78H753.44V746.78H754.43V746.78H755.43V746.78H756.43V746.78H757.42V746.78H758.42V746.78H759.41V746.78H760.41V746.78H761.40V746.79H762.40V746.79H763.40V746.79H764.39V746.79H765.39V746.79H766.38V746.79H767.38V746.79H768.38V746.79H769.37V746.79H770.37V746.79H771.36V746.79H772.36V746.79H773.35V746.79H774.35V746.79H775.35V746.79H776.34V746.79H777.34V746.79H778.33V746.80H779.33V746.80H780.33V746.80H781.32V746.80H782.32V746.80H783.31V746.80H784.31V746.80H785.30V746.80H786.30V746.80" fill="none" stroke="#FFA500" stroke-width="2.16" stroke-linecap="round" stroke-linejoin="round" stroke-dasharray="8.64 8.64"/>
<path d="M480.00,759.60H481.00V759.60H482.00V759.60H482.99V759.60H483.99V759.60H484.99V759.60H485.99V759.59H486.98V759.59H487.98V759.59H488.98V759.59H489.98V759.59H490.97V759.59H491.97V759.59H492.97V759.59H493.97V759.59H494.97V759.59H495.96V759.58H496.96V759.58H497.96V759.58H498.96V759.58H499.95V759.58H500.95V759.58H501.95V759.58H502.95V759.58H503.95V759.58H504.94V759.58H505.94V759.57H506.94V759.57H507.94V759.57H508.93V759.57H509.93V759.57H510.93V759.57H511.93V759.57H512.92V759.57H513.92V759.57H514.92V759.57H515.92V759.56H516.92V759.56H517.91V759.56H518.91V759.56H519.91V759.56H520.91V759.56H521.90V759.56H522.90V759.56H523.90V759.56H524.90V759.56H525.90V759.56H526.89V759.55H527.89V759.55H528.89V759.55H529.89V759.55H530.88V759.55H531.88V759.55H532.88V759.55H533.88V759.55H534.87V759.55H535.87V759.55H536.87V759.54H537.87V759.54H538.87V759.54H539.86V759.54H540.86V759.54H541.86V759.54H542.86V759.54H543.85V759.54H544.85V759.54H545.85V759.54H546.85V759.53H547.84V759.53H548.84V759.53H549.84V759.53H550.84V759.53H551.84V759.53H552.83V759.53H553.83V759.53H554.83V759.53H555.83V759.53H556.82V759.52H557.82V759.52H558.82V759.52H559.82V759.52H560.82V759.52H561.81V759.52H562.81V759.52H563.81V759.52H564.81V759.52H565.80V759.52H566.80V759.51H567.80V759.51H568.80V759.51H569.79V759.51H570.79V759.51H571.79V759.51H572.79V759.51H573.79V759.51H574.78V759.51H575.78V759.51H576.78V759.51H577.78V759.50H578.77V759.50H579.77V759.50H580.77V759.50H581.77V759.50H582.77V759.50H583.76V759.50H584.76V759.50H585.76V759.50H586.76V759.50H587.75V759.49H588.75V759.49H589.75V759.49H590.75V759.49H591.74V759.49H592.74V759.49H593.74V759.49H594.74V759.49H595.74V759.49H596.73V759.49H597.73V759.48H598.73V759.48H599.73V759.48H600.72V759.48H601.72V759.48H602.72V759.48H603.72V759.48H604.71V759.48H605.71V759.48H606.71V759.48H607.71V759.47H608.71V759.47H609.70V759.47H610.70V759.47H611.70V759.47H612.70V759.47H613.69V759.47H614.69V759.47H615.69V759.47H616.69V759.47H617.69V759.47H618.68V759.46H619.68V759.46H620.68V759.46H621.68V759.46H622.67V759.46H623.67V759.46H624.67V759.46H625.67V759.46H626.66V759.46H627.66V759.46H628.66V759.45H629.66V759.45H630.66V759.45H631.65V759.45H632.65V759.45H633.65V759.45H634.65V759.45H635.64V759.45H636.64V759.45H637.64V759.45H638.64V759.44H639.64V759.44H640.63V759.44H641.63V759.44H642.63V759.44H643.63V759.44H644.62V759.44H645.62V759.44H646.62V759.44H647.62V759.44H648.61V759.43H649.61V759.43H650.61V759.43H651.61V759.43H652.61V759.43H653.60V759.43H654.60V759.43H655.60V759.43H656.60V759.43H657.59V759.43H658.59V759.43H659.59V759.42H660.59V759.42H661.59V759.42H662.58V759.42H663.58V759.42H664.58V759.42H665.58V759.42H666.57V759.42H667.57V759.42H668.57V759.42H669.57V759.41H670.56V759.41H671.56V759.41H672.56V759.41H673.56V759.41H674.56V759.41H675.55V759.41H676.55V759.41H677.55V759.41H678.55V759.41H679.54V759.40H680.54V759.40H681.54V759.40H682.54V759.40H683.53V759.40H684.53V759.40H685.53V759.40H686.53V759.40H687.53V759.40H688.52V759.40H689.52V759.39H690.52V759.39H691.52V759.39H692.51V759.39H693.51V759.39H694.51V759.39H695.51V759.39H696.51V759.39H697.50V759.39H698.50V759.39H699.50V759.39H700.50V759.38H701.49V759.38H702.49V759.38H703.49V759.38H704.49V759.38H705.48V759.38H706.48V759.38H707.48V759.38H708.48V759.38H709.48V759.38H710.47V759.37H711.47V759.37H712.47V759.37H713.47V759.37H714.46V759.37H715.46V759.37H716.46V759.37H717.46V759.37H718.46V759.37H719.45V759.37H720.45V759.36H721.45V759.36H722.45V759.36H723.44V759.36H724.44V759.36H725.44V759.36H726.44V759.36H727.43V759.36H728.43V759.36H729.43V759.36H730.43V759.35H731.43V759.35H732.42V759.35H733.42V759.35H734.42V759.35H735.42V759.35H736.41V759.35H737.41V759.35H738.41V759.35H739.41V759.35H740.40V759.34H741.40V759.34H742.40V759.34H743.40V759.34H744.40V759.34H745.39V759.34H746.39V759.34H747.39V759.34H748.39V759.34H749.38V759.34H750.38V759.34H751.38V759.33H752.38V759.33H753.38V759.33H754.37V759.33H755.37V759.33H756.37V759.33H757.37V759.33H758.36V759.33H759.36V759.33H760.36V759.33H761.36V759.32H762.35V759.32H763.35V759.32H764.35V759.32H765.35V759.32H766.35V759.32H767.34V759.32H768.34V759.32H769.34V759.32H770.34V759.32H771.33V759.31H772.33V759.31H773.33V759.31H774.33V759.31H775.33V759.31H776.32V759.31H777.32V759.31H778.32V759.31H779.32V759.31H780.31V759.31H781.31V759.30H782.31V759.30H783.31V759.30H784.30V759.30H785.30V759.30H786.30V759.30" fill="none" stroke="#0000FF" stroke-width="2.16" stroke-linecap="round" stroke-linejoin="round" stroke-dasharray="2.16 6.48"/>
<path d="M480.00,760.00H481.00V760.00H482.00V760.00H482.99V760.00H483.99V760.00H484.99V760.00H485.99V759.99H486.98V759.99H487.98V759.99H488.98V759.99H489.98V759.99H490.97V759.99H491.97V759.99H492.97V759.99H493.97V759.99H494.97V759.99H495.96V759.98H496.96V759.98H497.96V759.98H498.96V759.98H499.95V759.98H500.95V759.98H501.95V759.98H502.95V759.98H503.95V759.98H504.94V759.98H505.94V759.97H506.94V759.97H507.94V759.97H508.93V759.97H509.93V759.97H510.93V759.97H511.93V759.97H512.92V759.97H513.92V759.97H514.92V759.97H515.92V759.96H516.92V759.96H517.91V759.96H518.91V759.96H519.91V759.96H520.91V759.96H521.90V759.96H522.90V759.96H523.90V759.96H524.90V759.96H525.90V759.96H526.89V759.95H527.89V759.95H528.89V759.95H529.89V759.95H530.88V759.95H531.88V759.95H532.88V759.95H533.88V759.95H534.87V759.95H535.87V759.95H536.87V759.94H537.87V759.94H538.87V759.94H539.86V759.94H540.86V759.94H541.86V759.94H542.86V759.94H543.85V759.94H544.85V759.94H545.85V759.94H546.85V759.93H547.84V759.93H548.84V759.93H549.84V759.93H550.84V759.93H551.84V759.93H552.83V759.93H553.83V759.93H554.83V759.93H555.83V759.93H556.82V759.92H557.82V759.92H558.82V759.92H559.82V759.92H560.82V759.92H561.81V759.92H562.81V759.92H563.81V759.92H564.81V759.92H565.80V759.92H566.80V759.91H567.80V759.91H568.80V759.91H569.79V759.91H570.79V759.91H571.79V759.91H572.79V759.91H573.79V759.91H574.78V759.91H575.78V759.91H576.78V759.91H577.78V759.90H578.77V759.90H579.77V759.90H580.77V759.90H581.77V759.90H582.77V759.90H583.76V759.90H584.76V759.90H585.76V759.90H586.76V759.90H587.75V759.89H588.75V759.89H589.75V759.89H590.75V759.89H591.74V759.89H592.74V759.89H593.74V759.89H594.74V759.89H595.74V759.89H596.73V759.89H597.73V759.88H598.73V759.88H599.73V759.88H600.72V759.88H601.72V759.88H602.72V759.88H603.72V759.88H604.71V759.88H605.71V759.88H606.71V759.88H607.71V759.87H608.71V759.87H609.70V759.87H610.70V759.87H611.70V759.87H612.70V759.87H613.69V759.87H614.69V759.87H615.69V759.87H616.69V759.87H617.69V759.87H618.68V759.86H619.68V759.86H620.68V759.86H621.68V759.86H622.67V759.86H623.67V759.86H624.67V759.86H625.67V759.86H626.66V759.86H627.66V759.86H628.66V759.85H629.66V759.85H630.66V759.85H631.65V759.85H632.65V759.85H633.65V759.85H634.65V759.85H635.64V759.85H636.64V759.85H637.64V759.85H638.64V759.84H639.64V759.84H640.63V759.84H641.63V759.84H642.63V759.84H643.63V759.84H644.62V759.84H645.62V759.84H646.62V759.84H647.62V759.84H648.61V759.83H649.61V759.83H650.61V759.83H651.61V759.83H652.61V759.83H653.60V759.83H654.60V759.83H655.60V759.83H656.60V759.83H657.59V759.83H658.59V759.83H659.59V759.82H660.59V759.82H661.59V759.82H662.58V759.82H663.58V759.82H664.58V759.82H665.58V759.82H666.57V759.82H667.57V759.82H668.57V759.82H669.57V759.81H670.56V759.81H671.56V759.81H672.56V759.81H673.56V759.81H674.56V759.81H675.55V759.81H676.55V759.81H677.55V759.81H678.55V759.81H679.54V759.80H680.54V759.80H681.54V759.80H682.54V759.80H683.53V759.80H684.53V759.80H685.53V759.80H686.53V759.80H687.53V759.80H688.52V759.80H689.52V759.79H690.52V759.79H691.52V759.79H692.51V759.79H693.51V759.79H694.51V759.79H695.51V759.79H696.51V759.79H697.50V759.79H698.50V759.79H699.50V759.79H700.50V759.78H701.49V759.78H702.49V759.78H703.49V759.78H704.49V759.78H705.48V759.78H706.48V759.78H707.48V759.78H708.48V759.78H709.48V759.78H710.47V759.77H711.47V759.77H712.47V759.77H713.47V759.77H714.46V759.77H715.46V759.77H716.46V759.77H717.46V759.77H718.46V759.77H719.45V759.77H720.45V759.76H721.45V759.76H722.45V759.76H723.44V759.76H724.44V759.76H725.44V759.76H726.44V759.76H727.43V759.76H728.43V759.76H729.43V759.76H730.43V759.75H731.43V759.75H732.42V759.75H733.42V759.75H734.42V759.75H735.42V759.75H736.41V759.75H737.41V759.75H738.41V759.75H739.41V759.75H740.40V759.74H741.40V759.74H742.40V759.74H743.40V759.74H744.40V759.74H745.39V759.74H746.39V759.74H747.39V759.74H748.39V759.74H749.38V759.74H750.38V759.74H751.38V759.73H752.38V759.73H753.38V759.73H754.37V759.73H755.37V759.73H756.37V759.73H757.37V759.73H758.36V759.73H759.36V759.73H760.36V759.73H761.36V759.72H762.35V759.72H763.35V759.72H764.35V759.72H765.35V759.72H766.35V759.72H767.34V759.72H768.34V759.72H769.34V759.72H770.34V759.72H771.33V759.71H772.33V759.71H773.33V759.71H774.33V759.71H775.33V759.71H776.32V759.71H777.32V759.71H778.32V759.71H779.32V759.71H780.31V759.71H781.31V759.70H782.31V759.70H783.31V759.70H784.30V759.70H785.30V759.70H786.30V759.70" fill="none" stroke="#FF0000" stroke-width="2.16" stroke-linecap="round" stroke-linejoin="round" stroke-dasharray="2.16 6.48 8.64 6.48"/>
<path d="M480.50,760.30H480.50V730.80H480.56V729.81H480.62V728.83H480.68V727.84H480.74V726.86H480.80V725.88H480.86V724.89H480.92V723.90H480.98V722.92H481.04V721.93H481.10V720.95H481.16V719.97H481.22V718.98H481.28V718.00H481.34V717.01H481.40V716.02H481.46V715.04H481.52V714.06H481.58V713.07H481.64V712.09H481.70V711.10H481.84V710.15H481.98V709.20H482.11V708.25H482.25V707.30H482.39V706.35H482.52V705.40H482.66V704.45H482.80V703.50H483.05V702.50H483.30V701.50H483.55V700.50H483.80V699.50H484.05V698.50H484.30V697.50H484.73V696.63H485.16V695.76H485.59V694.89H486.01V694.01H486.44V693.14H486.87V692.27H487.30V691.40H488.07V690.40H488.83V689.40H489.60V688.40H490.37V687.40H491.13V686.40H491.90V685.40H492.50V684.48H493.10V683.56H493.70V682.64H494.30V681.72H494.90V680.80H495.15V679.80H495.40V678.80H495.65V677.80H495.90V676.80H496.15V675.80H496.40V674.80H497.32V673.90H498.24V673.00H499.16V672.10H500.08V671.20H501.00V670.30H502.00V669.53H503.00V668.77H504.00V668.00H505.00V667.23H506.00V666.47H507.00V665.70H507.88V665.07H508.77V664.43H509.65V663.80H510.53V663.17H511.42V662.53H512.30V661.90H513.20V661.00H514.10V660.10H515.00V659.20H515.90V658.30H516.80V657.40H517.67V656.86H518.54V656.31H519.41V655.77H520.29V655.23H521.16V654.69H522.03V654.14H522.90V653.60H523.77V653.17H524.64V652.74H525.51V652.31H526.39V651.89H527.26V651.46H528.13V651.03H529.00V650.60H530.00V650.10H531.00V649.60H532.00V649.10H533.00V648.60H534.00V648.10H535.00V647.60H535.96V647.30H536.92V647.00H537.88V646.70H538.84V646.40H539.80V646.10H540.73V645.67H541.66V645.24H542.59V644.81H543.51V644.39H544.44V643.96H545.37V643.53H546.30V643.10H547.20V642.96H548.10V642.81H549.00V642.67H549.90V642.52H550.80V642.38H551.70V642.23H552.60V642.09H553.50V641.94H554.40V641.80H555.30V641.77H556.20V641.73H557.10V641.70H558.00V641.67H558.90V641.63H559.80V641.60H560.70V641.57H561.60V641.53H562.50V641.50H563.43V641.39H564.36V641.27H565.29V641.16H566.21V641.04H567.14V640.93H568.07V640.81H569.00V640.70H569.91V640.48H570.82V640.26H571.73V640.03H572.64V639.81H573.56V639.59H574.47V639.37H575.38V639.14H576.29V638.92H577.20V638.70H578.10V638.66H579.00V638.61H579.90V638.57H580.80V638.52H581.70V638.48H582.60V638.43H583.50V638.39H584.40V638.34H585.30V638.30H586.27V638.17H587.24V638.04H588.21V637.91H589.18V637.78H590.15V637.65H591.12V637.52H592.09V637.39H593.06V637.26H594.03V637.13H595.00V637.00H595.98V636.91H596.96V636.82H597.94V636.73H598.92V636.64H599.90V636.55H600.88V636.46H601.86V636.37H602.84V636.28H603.82V636.19H604.80V636.10H605.73V635.94H606.66V635.79H607.59V635.63H608.51V635.47H609.44V635.31H610.37V635.16H611.30V635.00H612.28V634.92H613.26V634.84H614.24V634.76H615.22V634.68H616.20V634.60H617.18V634.52H618.16V634.44H619.14V634.36H620.12V634.28H621.10V634.20H622.07V634.15H623.04V634.10H624.01V634.05H624.98V634.00H625.95V633.95H626.92V633.90H627.89V633.85H628.86V633.80H629.83V633.75H630.80V633.70H631.78V633.64H632.76V633.58H633.74V633.52H634.72V633.46H635.70V633.40H636.68V633.34H637.66V633.28H638.64V633.22H639.62V633.16H640.60V633.10H641.55V633.02H642.50V632.93H643.45V632.85H644.40V632.77H645.35V632.68H646.30V632.60H647.25V632.52H648.20V632.43H649.15V632.35H650.10V632.27H651.05V632.18H652.00V632.10H652.93V632.00H653.86V631.90H654.79V631.80H655.71V631.70H656.64V631.60H657.57V631.50H658.50V631.40H659.50V631.41H660.50V631.41H661.50V631.42H662.50V631.43H663.50V631.44H664.50V631.44H665.50V631.45H666.50V631.46H667.50V631.46H668.50V631.47H669.50V631.48H670.50V631.49H671.50V631.49H672.50V631.50H673.50V631.37H674.50V631.24H675.50V631.11H676.50V630.99H677.50V630.86H678.50V630.73H679.50V630.60H680.48V630.50H681.46V630.40H682.43V630.30H683.41V630.20H684.39V630.10H685.37V630.00H686.34V629.90H687.32V629.80H688.30V629.70H689.30V629.70H690.30V629.70H691.30V629.70H692.30V629.70H693.30V629.70H694.30V629.70H695.30V629.70H696.30V629.70H697.30V629.70H698.30V629.70H699.30V629.70H700.30V629.70H701.30V629.70H702.30V629.70H703.30V629.70H704.30V629.70H705.30V629.70H706.30V629.70H707.30V629.70H708.30V629.70H709.30V629.70H710.30V629.70H711.30V629.70H712.30V629.70H713.30V629.70H714.30V629.70H715.30V629.70H716.30V629.70H717.30V629.70H718.30V629.70H719.30V629.70H720.30V629.70H721.30V629.70H722.30V629.70H723.30V629.70H724.30V629.70H725.30V629.70H726.30V629.70H727.30V629.70H728.30V629.70H729.30V629.70H730.30V629.70H731.30V629.70H732.30V629.70H733.30V629.70H734.30V629.70H735.30V629.70H736.30V629.70H737.30V629.70H738.18V629.50H739.07V629.30H739.95V629.10H740.83V628.90H741.72V628.70H742.60V628.50H743.59V628.50H744.59V628.50H745.58V628.50H746.57V628.50H747.57V628.50H748.56V628.50H749.55V628.50H750.55V628.50H751.54V628.50H752.53V628.50H753.52V628.50H754.52V628.50H755.51V628.50H756.50V628.50H757.50V628.50H758.49V628.50H759.48V628.50H760.48V628.50H761.47V628.50H762.46V628.50H763.46V628.50H764.45V628.50H765.44V628.50H766.44V628.50H767.43V628.50H768.42V628.50H769.42V628.50H770.41V628.50H771.40V628.50H772.40V628.50H773.39V628.50H774.38V628.50H775.38V628.50H776.37V628.50H777.36V628.50H778.35V628.50H779.35V628.50H780.34V628.50H781.33V628.50H782.33V628.50H783.32V628.50H784.31V628.50H785.31V628.50H786.30V628.50" fill="none" stroke="#A020F0" stroke-width="2.16" stroke-linecap="round" stroke-linejoin="round" stroke-dasharray="4.32 4.32 12.96 4.32"/>
</g>
<rect x="488.50" y="327.10" width="297.20" height="147.10" fill="none" stroke="#222" stroke-width="1.2"/>
<path d="M505.50,348.10 L534.50,348.10" fill="none" stroke="#000000" stroke-width="2.16" stroke-linecap="round" stroke-linejoin="round"/>
<text x="549.60" y="354.40" text-anchor="start" font-size="14.00" font-weight="normal" fill="#262626" textLength="36.8" stroke="#262626" stroke-width="0.30">Death</text>
<path d="M505.50,369.16 L534.50,369.16" fill="none" stroke="#FFA500" stroke-width="2.16" stroke-linecap="round" stroke-linejoin="round" stroke-dasharray="8.64 8.64"/>
<text x="549.60" y="375.46" text-anchor="start" font-size="14.00" font-weight="normal" fill="#262626" textLength="100.2" stroke="#262626" stroke-width="0.30">Out of treatment</text>
<path d="M505.50,390.22 L534.50,390.22" fill="none" stroke="#0000FF" stroke-width="2.16" stroke-linecap="round" stroke-linejoin="round" stroke-dasharray="2.16 6.48"/>
<text x="549.60" y="396.52" text-anchor="start" font-size="14.00" font-weight="normal" fill="#262626" textLength="199.5" stroke="#262626" stroke-width="0.30">Opioid Agonist Treatment (OAT)</text>
<path d="M505.50,411.28 L534.50,411.28" fill="none" stroke="#FF0000" stroke-width="2.16" stroke-linecap="round" stroke-linejoin="round" stroke-dasharray="2.16 6.48 8.64 6.48"/>
<text x="549.60" y="417.58" text-anchor="start" font-size="14.00" font-weight="normal" fill="#262626" textLength="84.0" stroke="#262626" stroke-width="0.30">Detoxification</text>
<path d="M505.50,432.34 L534.50,432.34" fill="none" stroke="#00FF00" stroke-width="2.16" stroke-linecap="round" stroke-linejoin="round" stroke-dasharray="15.12 6.48"/>
<text x="549.60" y="438.64" text-anchor="start" font-size="14.00" font-weight="normal" fill="#262626" textLength="79.4" stroke="#262626" stroke-width="0.30">Incarceration</text>
<path d="M505.50,453.40 L534.50,453.40" fill="none" stroke="#A020F0" stroke-width="2.16" stroke-linecap="round" stroke-linejoin="round" stroke-dasharray="4.32 4.32 12.96 4.32"/>
<text x="549.60" y="459.70" text-anchor="start" font-size="14.00" font-weight="normal" fill="#262626" textLength="106.5" stroke="#262626" stroke-width="0.30">Legal supervision</text>
</svg>
</body></html>
